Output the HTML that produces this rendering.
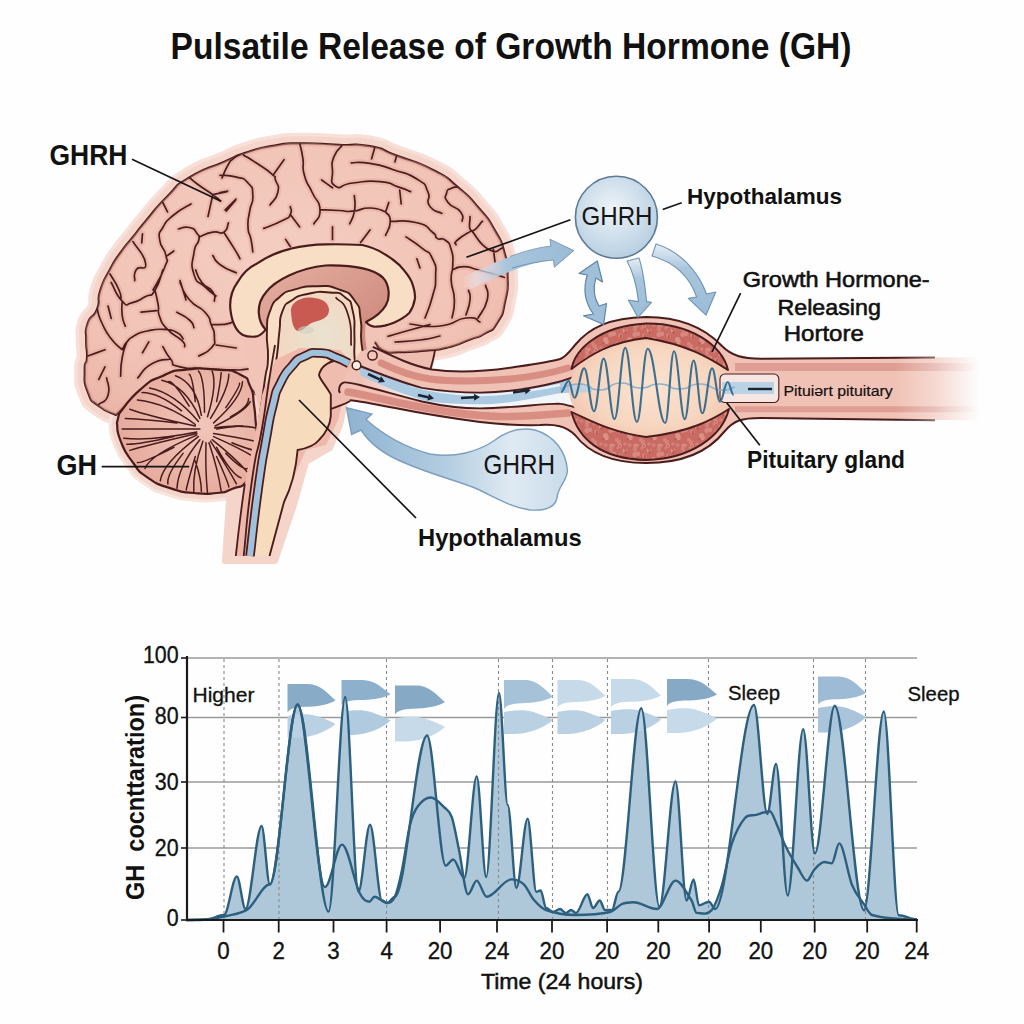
<!DOCTYPE html>
<html><head><meta charset="utf-8"><style>
html,body{margin:0;padding:0;background:#fff;}
svg{display:block;font-family:"Liberation Sans", sans-serif;}
</style></head><body>
<svg width="1024" height="1024" viewBox="0 0 1024 1024">
<rect width="1024" height="1024" fill="#fefefe"/>
<text x="170.5" y="59.3" font-size="36.5" font-weight="bold" fill="#111" textLength="681" lengthAdjust="spacingAndGlyphs">Pulsatile Release of Growth Hormone (GH)</text>
<path d="M116.0,415.0 C110.2,412.0 108.2,413.7 98.8,406.0 C89.3,398.3 92.5,403.9 87.8,391.9 C83.1,379.9 85.0,381.5 84.7,370.0 C84.4,358.5 86.5,367.4 87.0,357.5 C87.5,347.6 86.0,351.8 86.2,340.3 C86.5,328.8 84.1,333.4 87.8,323.0 C91.5,312.6 93.0,319.9 97.2,309.0 C101.4,298.1 96.1,303.3 100.3,290.3 C104.5,277.3 102.8,282.8 109.7,270.0 C116.6,257.2 113.2,263.0 121.0,252.0 C128.8,241.0 124.8,247.2 133.0,237.0 C141.2,226.8 134.1,234.8 145.6,221.2 C157.1,207.7 152.9,210.8 167.5,196.2 C182.1,181.7 170.7,188.9 189.4,177.5 C208.2,166.1 204.2,170.4 223.8,161.9 C243.3,153.4 231.0,157.4 248.0,152.0 C265.0,146.6 257.0,148.5 274.7,145.6 C292.4,142.7 279.6,143.6 301.0,143.3 C322.4,143.0 315.8,143.8 338.8,144.8 C361.8,145.8 350.7,142.7 370.0,146.2 C389.3,149.8 375.8,147.8 396.6,155.6 C417.4,163.4 412.2,159.3 432.5,169.7 C452.8,180.1 441.9,173.9 457.5,186.9 C473.1,199.9 466.9,194.2 479.4,208.8 C491.9,223.3 486.7,216.0 495.0,230.6 C503.3,245.2 500.2,237.4 504.4,252.5 C508.6,267.6 507.2,260.0 507.5,276.0 C507.8,292.0 508.6,285.1 505.3,300.6 C502.0,316.1 504.3,311.6 497.5,322.5 C490.7,333.4 494.4,327.7 485.0,333.4 C475.6,339.1 481.9,335.0 469.4,339.7 C456.9,344.4 462.1,343.9 447.5,347.5 C432.9,351.1 441.8,349.0 425.6,350.6 C409.4,352.2 413.1,352.2 399.0,352.2 C384.9,352.2 393.3,354.2 383.4,350.6 C373.5,347.0 380.5,341.5 369.4,341.3 C358.3,341.1 366.5,343.1 350.0,350.0 C333.5,356.9 340.0,352.0 320.0,362.0 C300.0,372.0 309.3,370.0 290.0,380.0 C270.7,390.0 274.7,388.7 262.0,392.0 C249.3,395.3 260.7,395.0 252.0,390.0 C243.3,385.0 250.0,383.7 236.0,377.0 C222.0,370.3 228.7,372.0 210.0,370.0 C191.3,368.0 200.0,366.0 180.0,371.0 C160.0,376.0 171.3,370.3 150.0,385.0 C128.7,399.7 127.3,405.0 116.0,415.0 Z" fill="#f8e0d9" stroke="#f8e0d9" stroke-width="21" stroke-linejoin="round"/>
<path d="M116.0,415.0 C110.2,412.0 108.2,413.7 98.8,406.0 C89.3,398.3 92.5,403.9 87.8,391.9 C83.1,379.9 85.0,381.5 84.7,370.0 C84.4,358.5 86.5,367.4 87.0,357.5 C87.5,347.6 86.0,351.8 86.2,340.3 C86.5,328.8 84.1,333.4 87.8,323.0 C91.5,312.6 93.0,319.9 97.2,309.0 C101.4,298.1 96.1,303.3 100.3,290.3 C104.5,277.3 102.8,282.8 109.7,270.0 C116.6,257.2 113.2,263.0 121.0,252.0 C128.8,241.0 124.8,247.2 133.0,237.0 C141.2,226.8 134.1,234.8 145.6,221.2 C157.1,207.7 152.9,210.8 167.5,196.2 C182.1,181.7 170.7,188.9 189.4,177.5 C208.2,166.1 204.2,170.4 223.8,161.9 C243.3,153.4 231.0,157.4 248.0,152.0 C265.0,146.6 257.0,148.5 274.7,145.6 C292.4,142.7 279.6,143.6 301.0,143.3 C322.4,143.0 315.8,143.8 338.8,144.8 C361.8,145.8 350.7,142.7 370.0,146.2 C389.3,149.8 375.8,147.8 396.6,155.6 C417.4,163.4 412.2,159.3 432.5,169.7 C452.8,180.1 441.9,173.9 457.5,186.9 C473.1,199.9 466.9,194.2 479.4,208.8 C491.9,223.3 486.7,216.0 495.0,230.6 C503.3,245.2 500.2,237.4 504.4,252.5 C508.6,267.6 507.2,260.0 507.5,276.0 C507.8,292.0 508.6,285.1 505.3,300.6 C502.0,316.1 504.3,311.6 497.5,322.5 C490.7,333.4 494.4,327.7 485.0,333.4 C475.6,339.1 481.9,335.0 469.4,339.7 C456.9,344.4 462.1,343.9 447.5,347.5 C432.9,351.1 441.8,349.0 425.6,350.6 C409.4,352.2 413.1,352.2 399.0,352.2 C384.9,352.2 393.3,354.2 383.4,350.6 C373.5,347.0 380.5,341.5 369.4,341.3 C358.3,341.1 366.5,343.1 350.0,350.0 C333.5,356.9 340.0,352.0 320.0,362.0 C300.0,372.0 309.3,370.0 290.0,380.0 C270.7,390.0 274.7,388.7 262.0,392.0 C249.3,395.3 260.7,395.0 252.0,390.0 C243.3,385.0 250.0,383.7 236.0,377.0 C222.0,370.3 228.7,372.0 210.0,370.0 C191.3,368.0 200.0,366.0 180.0,371.0 C160.0,376.0 171.3,370.3 150.0,385.0 C128.7,399.7 127.3,405.0 116.0,415.0 Z" fill="#f5d4ca" stroke="#f5d4ca" stroke-width="14" stroke-linejoin="round"/>
<path d="M119.1,413.8 C126.2,405.7 125.8,402.1 140.5,389.4 C155.2,376.7 148.1,382.3 163.3,375.7 C178.5,369.1 168.4,371.6 186.2,369.6 C204.0,367.6 198.8,368.1 216.6,369.6 C234.4,371.1 228.3,368.6 239.5,374.2 C250.7,379.8 245.4,376.1 250.2,386.4 C255.0,396.7 252.1,392.1 254.0,405.0 C255.9,417.9 254.5,411.4 256.0,425.0 C257.5,438.6 258.9,433.3 258.5,445.8 C258.1,458.3 258.5,450.8 254.7,462.5 C250.9,474.2 254.7,472.0 247.1,480.8 C239.5,489.6 242.2,484.9 232.0,489.0 C221.8,493.1 229.3,491.7 216.6,493.0 C203.9,494.3 209.0,494.5 193.8,493.0 C178.6,491.5 186.1,493.5 170.9,488.4 C155.7,483.3 160.8,486.4 148.1,477.8 C135.4,469.2 142.0,474.7 132.9,462.5 C123.8,450.3 126.0,454.4 120.7,441.2 C115.4,428.0 118.2,429.1 116.9,423.0 Z" fill="#f8e3dd" stroke="#f8e3dd" stroke-width="17" stroke-linejoin="round"/>
<path d="M119.1,413.8 C126.2,405.7 125.8,402.1 140.5,389.4 C155.2,376.7 148.1,382.3 163.3,375.7 C178.5,369.1 168.4,371.6 186.2,369.6 C204.0,367.6 198.8,368.1 216.6,369.6 C234.4,371.1 228.3,368.6 239.5,374.2 C250.7,379.8 245.4,376.1 250.2,386.4 C255.0,396.7 252.1,392.1 254.0,405.0 C255.9,417.9 254.5,411.4 256.0,425.0 C257.5,438.6 258.9,433.3 258.5,445.8 C258.1,458.3 258.5,450.8 254.7,462.5 C250.9,474.2 254.7,472.0 247.1,480.8 C239.5,489.6 242.2,484.9 232.0,489.0 C221.8,493.1 229.3,491.7 216.6,493.0 C203.9,494.3 209.0,494.5 193.8,493.0 C178.6,491.5 186.1,493.5 170.9,488.4 C155.7,483.3 160.8,486.4 148.1,477.8 C135.4,469.2 142.0,474.7 132.9,462.5 C123.8,450.3 126.0,454.4 120.7,441.2 C115.4,428.0 118.2,429.1 116.9,423.0 Z" fill="#f5d4ca" stroke="#f5d4ca" stroke-width="11" stroke-linejoin="round"/>
<path d="M225,561 L229,500 L240,440 L258,380 L300,350 L345,352 L352,370 L340,425 L330,448 L306,462 L294,505 L275,561 Z" fill="#f5d4ca" stroke="#f5d4ca" stroke-width="6" stroke-linejoin="round"/>
<path d="M338,352 L372,338 L436,346 L432,372 L360,372 L340,370 Z" fill="#efbdb0" stroke="none" stroke-width="0" />
<defs><radialGradient id="gb" cx="0.45" cy="0.4" r="0.7"><stop offset="0" stop-color="#f4cdc1"/><stop offset="0.7" stop-color="#f1c3b6"/><stop offset="1" stop-color="#ebb6a8"/></radialGradient><linearGradient id="gin" x1="0" y1="0" x2="1" y2="1"><stop offset="0" stop-color="#e5b0a2"/><stop offset="1" stop-color="#c98275"/></linearGradient><radialGradient id="gth" cx="0.55" cy="0.55" r="0.6"><stop offset="0" stop-color="#e9e3d0"/><stop offset="1" stop-color="#f3d6c0"/></radialGradient></defs>
<path d="M116.0,415.0 C110.2,412.0 108.2,413.7 98.8,406.0 C89.3,398.3 92.5,403.9 87.8,391.9 C83.1,379.9 85.0,381.5 84.7,370.0 C84.4,358.5 86.5,367.4 87.0,357.5 C87.5,347.6 86.0,351.8 86.2,340.3 C86.5,328.8 84.1,333.4 87.8,323.0 C91.5,312.6 93.0,319.9 97.2,309.0 C101.4,298.1 96.1,303.3 100.3,290.3 C104.5,277.3 102.8,282.8 109.7,270.0 C116.6,257.2 113.2,263.0 121.0,252.0 C128.8,241.0 124.8,247.2 133.0,237.0 C141.2,226.8 134.1,234.8 145.6,221.2 C157.1,207.7 152.9,210.8 167.5,196.2 C182.1,181.7 170.7,188.9 189.4,177.5 C208.2,166.1 204.2,170.4 223.8,161.9 C243.3,153.4 231.0,157.4 248.0,152.0 C265.0,146.6 257.0,148.5 274.7,145.6 C292.4,142.7 279.6,143.6 301.0,143.3 C322.4,143.0 315.8,143.8 338.8,144.8 C361.8,145.8 350.7,142.7 370.0,146.2 C389.3,149.8 375.8,147.8 396.6,155.6 C417.4,163.4 412.2,159.3 432.5,169.7 C452.8,180.1 441.9,173.9 457.5,186.9 C473.1,199.9 466.9,194.2 479.4,208.8 C491.9,223.3 486.7,216.0 495.0,230.6 C503.3,245.2 500.2,237.4 504.4,252.5 C508.6,267.6 507.2,260.0 507.5,276.0 C507.8,292.0 508.6,285.1 505.3,300.6 C502.0,316.1 504.3,311.6 497.5,322.5 C490.7,333.4 494.4,327.7 485.0,333.4 C475.6,339.1 481.9,335.0 469.4,339.7 C456.9,344.4 462.1,343.9 447.5,347.5 C432.9,351.1 441.8,349.0 425.6,350.6 C409.4,352.2 413.1,352.2 399.0,352.2 C384.9,352.2 393.3,354.2 383.4,350.6 C373.5,347.0 380.5,341.5 369.4,341.3 C358.3,341.1 366.5,343.1 350.0,350.0 C333.5,356.9 340.0,352.0 320.0,362.0 C300.0,372.0 309.3,370.0 290.0,380.0 C270.7,390.0 274.7,388.7 262.0,392.0 C249.3,395.3 260.7,395.0 252.0,390.0 C243.3,385.0 250.0,383.7 236.0,377.0 C222.0,370.3 228.7,372.0 210.0,370.0 C191.3,368.0 200.0,366.0 180.0,371.0 C160.0,376.0 171.3,370.3 150.0,385.0 C128.7,399.7 127.3,405.0 116.0,415.0 Z" fill="url(#gb)" stroke="#4a1c1c" stroke-width="2.2" />
<clipPath id="cerclip"><path d="M116.0,415.0 C110.2,412.0 108.2,413.7 98.8,406.0 C89.3,398.3 92.5,403.9 87.8,391.9 C83.1,379.9 85.0,381.5 84.7,370.0 C84.4,358.5 86.5,367.4 87.0,357.5 C87.5,347.6 86.0,351.8 86.2,340.3 C86.5,328.8 84.1,333.4 87.8,323.0 C91.5,312.6 93.0,319.9 97.2,309.0 C101.4,298.1 96.1,303.3 100.3,290.3 C104.5,277.3 102.8,282.8 109.7,270.0 C116.6,257.2 113.2,263.0 121.0,252.0 C128.8,241.0 124.8,247.2 133.0,237.0 C141.2,226.8 134.1,234.8 145.6,221.2 C157.1,207.7 152.9,210.8 167.5,196.2 C182.1,181.7 170.7,188.9 189.4,177.5 C208.2,166.1 204.2,170.4 223.8,161.9 C243.3,153.4 231.0,157.4 248.0,152.0 C265.0,146.6 257.0,148.5 274.7,145.6 C292.4,142.7 279.6,143.6 301.0,143.3 C322.4,143.0 315.8,143.8 338.8,144.8 C361.8,145.8 350.7,142.7 370.0,146.2 C389.3,149.8 375.8,147.8 396.6,155.6 C417.4,163.4 412.2,159.3 432.5,169.7 C452.8,180.1 441.9,173.9 457.5,186.9 C473.1,199.9 466.9,194.2 479.4,208.8 C491.9,223.3 486.7,216.0 495.0,230.6 C503.3,245.2 500.2,237.4 504.4,252.5 C508.6,267.6 507.2,260.0 507.5,276.0 C507.8,292.0 508.6,285.1 505.3,300.6 C502.0,316.1 504.3,311.6 497.5,322.5 C490.7,333.4 494.4,327.7 485.0,333.4 C475.6,339.1 481.9,335.0 469.4,339.7 C456.9,344.4 462.1,343.9 447.5,347.5 C432.9,351.1 441.8,349.0 425.6,350.6 C409.4,352.2 413.1,352.2 399.0,352.2 C384.9,352.2 393.3,354.2 383.4,350.6 C373.5,347.0 380.5,341.5 369.4,341.3 C358.3,341.1 366.5,343.1 350.0,350.0 C333.5,356.9 340.0,352.0 320.0,362.0 C300.0,372.0 309.3,370.0 290.0,380.0 C270.7,390.0 274.7,388.7 262.0,392.0 C249.3,395.3 260.7,395.0 252.0,390.0 C243.3,385.0 250.0,383.7 236.0,377.0 C222.0,370.3 228.7,372.0 210.0,370.0 C191.3,368.0 200.0,366.0 180.0,371.0 C160.0,376.0 171.3,370.3 150.0,385.0 C128.7,399.7 127.3,405.0 116.0,415.0 Z"/></clipPath>
<g clip-path="url(#cerclip)"><path d="M240.0,154.0 C237.7,155.7 237.0,155.3 233.0,159.0 C229.0,162.7 231.7,158.7 228.0,165.0 C224.3,171.3 224.0,173.7 222.0,178.0 M189.4,177.5 C192.6,180.1 191.2,179.6 199.0,185.3 C206.8,191.0 205.6,189.5 212.8,194.7 C220.0,199.9 218.0,198.9 220.6,201.0 M212.8,194.7 C217.5,193.7 222.3,192.6 227.0,191.6 M212.8,194.7 C211.2,202.0 209.6,209.2 208.0,216.5 M236.0,199.0 C232.3,202.7 228.7,206.3 225.0,210.0 M162.8,202.5 C164.4,205.6 165.9,208.8 167.5,211.9 M191.0,204.0 C185.2,207.7 183.1,207.2 173.7,215.0 C164.3,222.8 167.5,219.2 162.8,227.5 C158.1,235.8 158.6,230.6 159.7,240.0 C160.8,249.4 164.4,246.3 166.0,255.6 C167.6,264.9 168.7,256.5 164.4,268.0 C160.1,279.5 156.8,282.7 153.0,290.0 M142.5,233.8 C142.2,236.8 142.0,239.9 141.7,243.0 M133.0,241.6 C137.2,248.9 144.5,254.0 145.6,263.4 C146.7,272.8 139.9,264.0 136.2,269.7 C132.6,275.4 135.2,277.0 134.7,280.6 M178.4,229.0 C182.1,228.5 183.1,225.9 189.4,227.5 C195.7,229.1 194.1,229.6 197.2,233.8 C200.3,237.9 199.8,233.8 198.8,240.0 C197.7,246.2 195.6,241.0 194.0,252.5 C192.4,264.0 190.3,262.9 194.0,274.4 C197.7,285.9 197.7,279.7 205.0,286.9 C212.3,294.1 212.3,293.0 216.0,296.0 M198.8,237.0 C203.4,235.4 204.5,233.8 212.8,232.2 C221.1,230.6 218.6,235.3 223.8,232.2 C228.9,229.1 226.8,225.9 228.4,222.8 M223.8,232.2 C227.4,237.9 229.3,240.6 234.7,249.4 C240.1,258.2 238.2,255.6 240.0,258.8 M212.8,255.6 C215.4,258.7 212.8,259.3 220.6,265.0 C228.4,270.7 231.0,270.2 236.2,272.8 M167.5,255.6 C169.6,254.1 171.7,252.5 173.8,251.0 M180.0,280.6 C182.0,287.1 184.0,293.5 186.0,300.0 M110.0,274.0 C113.0,279.3 115.3,281.3 119.0,290.0 C122.7,298.7 120.3,296.7 121.0,300.0 M243.4,155.0 C247.6,157.6 246.6,156.6 256.0,162.8 C265.4,169.1 265.1,168.0 271.6,173.8 C278.1,179.5 273.4,173.8 275.5,180.0 C277.6,186.2 279.6,184.2 277.8,192.5 C276.0,200.8 272.6,200.8 270.0,205.0 M273.0,175.3 C276.7,170.1 280.3,164.9 284.0,159.7 M220.0,175.3 C225.2,175.8 226.3,174.3 235.6,176.9 C244.9,179.5 242.3,176.8 248.0,183.0 C253.7,189.2 252.2,186.3 252.8,195.6 C253.4,204.9 251.3,200.6 249.7,211.0 C248.1,221.4 247.6,217.4 248.0,226.9 C248.4,236.4 249.4,231.1 251.0,239.4 C252.6,247.7 252.2,247.7 252.8,251.9 M220.0,192.5 C222.6,192.0 225.2,191.5 227.8,191.0 M235.6,200.3 C232.5,204.0 229.4,207.6 226.2,211.2 M299.7,143.3 C300.7,148.2 301.2,147.3 302.8,158.0 C304.4,168.7 301.3,163.8 304.4,175.3 C307.5,186.8 307.0,181.0 312.2,192.5 C317.4,204.0 319.5,199.3 320.0,209.7 C320.5,220.1 315.8,219.1 313.8,223.8 M320.0,209.7 C326.2,210.0 327.8,210.0 338.8,210.5 C349.7,211.0 342.4,212.1 352.8,211.2 C363.2,210.4 359.1,207.8 370.0,208.0 C380.9,208.2 380.4,210.6 385.6,211.9 M354.4,195.6 C354.4,200.8 356.0,201.9 354.4,211.2 C352.8,220.6 351.3,219.6 349.7,223.8 M332.5,226.9 C332.5,231.1 332.5,235.2 332.5,239.4 M290.3,206.6 C290.3,209.2 292.9,209.7 290.3,214.4 C287.7,219.1 291.4,215.9 282.5,220.6 C273.6,225.3 270.0,225.8 263.8,228.4 M290.3,214.4 C293.4,218.6 296.6,222.7 299.7,226.9 M370.0,230.0 C366.9,234.2 363.7,238.3 360.6,242.5 M285.6,239.4 C287.2,241.8 288.7,244.2 290.3,246.6 M341.9,145.6 C339.3,149.3 337.1,148.3 334.0,156.6 C330.9,164.9 332.0,160.7 332.5,170.6 C333.0,180.5 328.8,182.1 335.6,186.2 C342.4,190.4 338.0,184.6 352.8,183.0 C367.6,181.4 364.9,180.3 380.0,181.6 C395.1,182.9 387.8,183.6 398.0,186.9 C408.2,190.2 406.4,190.0 410.6,191.6 M321.6,180.0 C325.2,182.6 328.9,185.2 332.5,187.8 M351.2,162.8 C357.5,163.0 355.9,161.1 370.0,163.4 C384.1,165.7 377.8,164.5 393.4,169.7 C409.0,174.9 405.4,171.7 416.9,179.0 C428.4,186.3 423.6,182.7 427.8,191.6 C432.0,200.5 424.7,198.3 429.4,205.6 C434.1,212.9 437.7,210.8 441.9,213.4 M374.7,147.8 C373.7,151.5 372.6,155.1 371.6,158.8 M396.6,155.6 C396.1,157.7 395.5,159.8 395.0,161.9 M399.7,190.0 C400.2,194.7 400.7,199.3 401.2,204.0 M385.6,211.9 C386.7,208.8 387.7,205.6 388.8,202.5 M385.6,211.9 C387.2,215.0 390.3,213.4 390.3,221.2 C390.3,229.1 387.2,230.6 385.6,235.3 M390.3,221.2 C399.2,221.8 402.8,219.2 416.9,222.8 C431.0,226.5 425.7,227.0 432.5,232.2 C439.3,237.4 433.0,235.8 437.2,238.4 C441.4,241.0 440.3,236.3 445.0,240.0 C449.7,243.7 448.6,241.1 451.2,249.4 C453.9,257.7 452.8,254.6 452.8,265.0 C452.8,275.4 450.7,268.9 451.2,280.6 C451.8,292.3 454.1,287.5 454.4,300.0 C454.6,312.5 452.8,312.0 452.0,318.0 M406.0,236.9 C411.2,240.5 412.8,240.5 421.6,247.8 C430.4,255.1 427.8,248.8 432.5,258.8 C437.2,268.6 435.6,265.0 435.6,277.5 C435.6,290.0 436.0,282.8 432.5,296.2 C429.0,309.8 427.5,310.8 425.0,318.0 M416.9,258.8 C417.9,261.8 419.0,264.9 420.0,268.0 M457.5,186.9 C455.3,187.4 454.6,186.4 451.0,188.4 C447.4,190.4 447.6,188.3 446.6,193.0 C445.6,197.7 443.3,196.2 448.0,202.5 C452.7,208.8 455.9,205.7 460.6,211.9 C465.3,218.2 461.7,218.1 462.2,221.2 M482.5,221.2 C478.9,224.4 475.8,232.2 471.6,230.6 C467.4,229.0 470.5,221.3 470.0,216.6 M471.6,230.6 C466.9,233.7 462.7,235.3 457.5,240.0 C452.3,244.7 456.5,243.1 456.0,244.7 M471.6,230.6 C477.3,236.9 478.4,243.7 488.8,249.4 C499.1,255.1 498.1,248.3 502.8,247.8 M493.4,249.4 C493.9,253.6 494.5,257.7 495.0,261.9 M452.8,269.7 C456.4,268.7 455.4,266.6 463.8,266.6 C472.1,266.6 467.4,267.1 477.8,269.7 C488.2,272.3 486.1,271.8 495.0,274.4 C503.9,277.0 501.3,276.5 504.4,277.5 M468.4,290.0 C468.9,293.3 470.8,291.7 470.0,300.0 C469.2,308.3 467.3,310.0 466.0,315.0 M485.6,285.3 C486.1,290.2 489.7,289.1 487.2,300.0 C484.7,310.9 481.1,312.0 478.0,318.0 M410.0,324.0 C420.0,324.7 421.3,328.0 440.0,326.0 C458.7,324.0 452.7,319.3 466.0,318.0 C479.3,316.7 475.3,320.7 480.0,322.0 M388.0,336.3 C395.3,334.2 396.0,333.9 410.0,330.0 C424.0,326.1 423.3,326.3 430.0,324.5 M395.0,342.0 C403.3,341.3 405.0,342.0 420.0,340.0 C435.0,338.0 433.3,337.3 440.0,336.0 M111.2,282.5 C114.9,288.8 115.4,294.5 122.2,301.2 C129.0,308.0 123.8,304.4 131.6,302.8 C139.4,301.2 137.8,300.8 145.6,296.6 C153.4,292.4 149.3,299.2 155.0,290.3 C160.7,281.4 160.2,276.8 162.8,270.0 M122.2,301.2 C122.2,305.9 121.2,307.0 122.2,315.3 C123.2,323.6 124.3,322.6 125.3,326.2 M108.0,306.0 C109.1,310.1 110.2,314.3 111.2,318.4 M97.2,309.0 C98.8,313.7 97.2,313.1 101.9,323.0 C106.6,332.9 104.5,329.9 111.2,338.8 C118.0,347.6 118.5,346.1 122.2,349.7 M155.0,290.3 C156.0,295.0 156.5,295.5 158.1,304.4 C159.7,313.3 156.6,308.6 159.7,316.9 C162.8,325.2 160.2,321.6 167.5,329.4 C174.8,337.2 175.9,334.6 181.6,340.3 C187.3,346.0 183.7,344.5 184.7,346.6 M141.0,312.2 C146.2,311.7 151.4,311.1 156.6,310.6 M180.0,282.5 C183.1,288.2 181.1,289.8 189.4,299.7 C197.7,309.6 197.7,303.9 205.0,312.2 C212.3,320.5 208.1,316.4 211.2,324.7 C214.4,333.0 214.4,329.4 214.4,337.2 C214.4,345.0 216.5,341.7 211.2,348.0 C206.0,354.3 202.9,353.3 198.8,356.0 M195.6,270.0 C197.7,274.2 196.2,275.2 201.9,282.5 C207.6,289.8 208.6,285.6 212.8,291.9 C217.0,298.1 213.9,298.1 214.4,301.2 M176.9,312.2 C181.1,314.8 183.7,314.8 189.4,320.0 C195.1,325.2 192.5,325.2 194.0,327.8 M211.2,324.7 C217.5,324.2 222.2,325.7 230.0,323.1 C237.8,320.5 233.1,319.0 234.7,316.9 M216.0,345.0 C222.8,346.0 229.5,347.0 236.2,348.0 M87.8,356.0 C93.5,353.9 99.3,351.8 105.0,349.7 M122.2,349.7 C123.8,347.1 122.7,346.6 126.9,341.9 C131.1,337.2 127.9,339.2 134.7,335.6 C141.5,332.0 137.3,333.1 147.2,331.0 C157.1,328.9 154.5,328.9 164.4,329.4 C174.3,329.9 170.7,329.4 176.9,332.5 C183.1,335.6 181.0,336.7 183.1,338.8 M148.8,341.9 C146.7,345.5 144.6,349.2 142.5,352.8 M126.9,341.9 C125.3,347.1 124.3,346.1 122.2,357.5 C120.1,368.9 121.1,370.0 120.6,376.2 M162.8,346.6 C165.4,350.7 164.9,352.2 170.6,359.0 C176.3,365.8 166.9,363.6 180.0,366.9 C193.1,370.2 190.0,368.0 210.0,369.0 C230.0,370.0 230.0,369.7 240.0,370.0 M137.8,377.8 C142.5,373.1 141.0,370.0 151.9,363.8 C162.8,357.5 164.4,360.6 170.6,359.0 M98.8,379.4 C100.8,375.2 102.9,371.1 105.0,366.9 M106.6,377.8 C107.1,383.5 110.7,386.1 108.1,395.0 C105.5,403.9 101.9,401.3 98.8,404.4 M240.0,370.0 C247.3,368.3 252.7,370.0 262.0,365.0 C271.3,360.0 266.7,366.7 268.0,355.0 C269.3,343.3 268.0,341.7 266.0,330.0 C264.0,318.3 263.3,323.3 262.0,320.0 M116.0,415.0 C110.2,412.0 108.2,413.7 98.8,406.0 C89.3,398.3 92.5,403.9 87.8,391.9 C83.1,379.9 85.0,381.5 84.7,370.0 C84.4,358.5 86.5,367.4 87.0,357.5 C87.5,347.6 86.0,351.8 86.2,340.3 C86.5,328.8 84.1,333.4 87.8,323.0 C91.5,312.6 93.0,319.9 97.2,309.0 C101.4,298.1 96.1,303.3 100.3,290.3 C104.5,277.3 102.8,282.8 109.7,270.0 C116.6,257.2 113.2,263.0 121.0,252.0 C128.8,241.0 124.8,247.2 133.0,237.0 C141.2,226.8 134.1,234.8 145.6,221.2 C157.1,207.7 152.9,210.8 167.5,196.2 C182.1,181.7 170.7,188.9 189.4,177.5 C208.2,166.1 204.2,170.4 223.8,161.9 C243.3,153.4 231.0,157.4 248.0,152.0 C265.0,146.6 257.0,148.5 274.7,145.6 C292.4,142.7 279.6,143.6 301.0,143.3 C322.4,143.0 315.8,143.8 338.8,144.8 C361.8,145.8 350.7,142.7 370.0,146.2 C389.3,149.8 375.8,147.8 396.6,155.6 C417.4,163.4 412.2,159.3 432.5,169.7 C452.8,180.1 441.9,173.9 457.5,186.9 C473.1,199.9 466.9,194.2 479.4,208.8 C491.9,223.3 486.7,216.0 495.0,230.6 C503.3,245.2 500.2,237.4 504.4,252.5 C508.6,267.6 507.2,260.0 507.5,276.0 C507.8,292.0 508.6,285.1 505.3,300.6 C502.0,316.1 504.3,311.6 497.5,322.5 C490.7,333.4 494.4,327.7 485.0,333.4 C475.6,339.1 481.9,335.0 469.4,339.7 C456.9,344.4 462.1,343.9 447.5,347.5 C432.9,351.1 441.8,349.0 425.6,350.6 C409.4,352.2 413.1,352.2 399.0,352.2 C384.9,352.2 393.3,354.2 383.4,350.6 C373.5,347.0 380.5,341.5 369.4,341.3 C358.3,341.1 366.5,343.1 350.0,350.0 C333.5,356.9 340.0,352.0 320.0,362.0 C300.0,372.0 309.3,370.0 290.0,380.0 C270.7,390.0 274.7,388.7 262.0,392.0 C249.3,395.3 260.7,395.0 252.0,390.0 C243.3,385.0 250.0,383.7 236.0,377.0 C222.0,370.3 228.7,372.0 210.0,370.0 C191.3,368.0 200.0,366.0 180.0,371.0 C160.0,376.0 171.3,370.3 150.0,385.0 C128.7,399.7 127.3,405.0 116.0,415.0 Z" fill="none" stroke="#e3a596" stroke-opacity="0.45" stroke-width="6" stroke-linecap="round" stroke-linejoin="round"/>
<path d="M240.0,154.0 C237.7,155.7 237.0,155.3 233.0,159.0 C229.0,162.7 231.7,158.7 228.0,165.0 C224.3,171.3 224.0,173.7 222.0,178.0 M189.4,177.5 C192.6,180.1 191.2,179.6 199.0,185.3 C206.8,191.0 205.6,189.5 212.8,194.7 C220.0,199.9 218.0,198.9 220.6,201.0 M212.8,194.7 C217.5,193.7 222.3,192.6 227.0,191.6 M212.8,194.7 C211.2,202.0 209.6,209.2 208.0,216.5 M236.0,199.0 C232.3,202.7 228.7,206.3 225.0,210.0 M162.8,202.5 C164.4,205.6 165.9,208.8 167.5,211.9 M191.0,204.0 C185.2,207.7 183.1,207.2 173.7,215.0 C164.3,222.8 167.5,219.2 162.8,227.5 C158.1,235.8 158.6,230.6 159.7,240.0 C160.8,249.4 164.4,246.3 166.0,255.6 C167.6,264.9 168.7,256.5 164.4,268.0 C160.1,279.5 156.8,282.7 153.0,290.0 M142.5,233.8 C142.2,236.8 142.0,239.9 141.7,243.0 M133.0,241.6 C137.2,248.9 144.5,254.0 145.6,263.4 C146.7,272.8 139.9,264.0 136.2,269.7 C132.6,275.4 135.2,277.0 134.7,280.6 M178.4,229.0 C182.1,228.5 183.1,225.9 189.4,227.5 C195.7,229.1 194.1,229.6 197.2,233.8 C200.3,237.9 199.8,233.8 198.8,240.0 C197.7,246.2 195.6,241.0 194.0,252.5 C192.4,264.0 190.3,262.9 194.0,274.4 C197.7,285.9 197.7,279.7 205.0,286.9 C212.3,294.1 212.3,293.0 216.0,296.0 M198.8,237.0 C203.4,235.4 204.5,233.8 212.8,232.2 C221.1,230.6 218.6,235.3 223.8,232.2 C228.9,229.1 226.8,225.9 228.4,222.8 M223.8,232.2 C227.4,237.9 229.3,240.6 234.7,249.4 C240.1,258.2 238.2,255.6 240.0,258.8 M212.8,255.6 C215.4,258.7 212.8,259.3 220.6,265.0 C228.4,270.7 231.0,270.2 236.2,272.8 M167.5,255.6 C169.6,254.1 171.7,252.5 173.8,251.0 M180.0,280.6 C182.0,287.1 184.0,293.5 186.0,300.0 M110.0,274.0 C113.0,279.3 115.3,281.3 119.0,290.0 C122.7,298.7 120.3,296.7 121.0,300.0 M243.4,155.0 C247.6,157.6 246.6,156.6 256.0,162.8 C265.4,169.1 265.1,168.0 271.6,173.8 C278.1,179.5 273.4,173.8 275.5,180.0 C277.6,186.2 279.6,184.2 277.8,192.5 C276.0,200.8 272.6,200.8 270.0,205.0 M273.0,175.3 C276.7,170.1 280.3,164.9 284.0,159.7 M220.0,175.3 C225.2,175.8 226.3,174.3 235.6,176.9 C244.9,179.5 242.3,176.8 248.0,183.0 C253.7,189.2 252.2,186.3 252.8,195.6 C253.4,204.9 251.3,200.6 249.7,211.0 C248.1,221.4 247.6,217.4 248.0,226.9 C248.4,236.4 249.4,231.1 251.0,239.4 C252.6,247.7 252.2,247.7 252.8,251.9 M220.0,192.5 C222.6,192.0 225.2,191.5 227.8,191.0 M235.6,200.3 C232.5,204.0 229.4,207.6 226.2,211.2 M299.7,143.3 C300.7,148.2 301.2,147.3 302.8,158.0 C304.4,168.7 301.3,163.8 304.4,175.3 C307.5,186.8 307.0,181.0 312.2,192.5 C317.4,204.0 319.5,199.3 320.0,209.7 C320.5,220.1 315.8,219.1 313.8,223.8 M320.0,209.7 C326.2,210.0 327.8,210.0 338.8,210.5 C349.7,211.0 342.4,212.1 352.8,211.2 C363.2,210.4 359.1,207.8 370.0,208.0 C380.9,208.2 380.4,210.6 385.6,211.9 M354.4,195.6 C354.4,200.8 356.0,201.9 354.4,211.2 C352.8,220.6 351.3,219.6 349.7,223.8 M332.5,226.9 C332.5,231.1 332.5,235.2 332.5,239.4 M290.3,206.6 C290.3,209.2 292.9,209.7 290.3,214.4 C287.7,219.1 291.4,215.9 282.5,220.6 C273.6,225.3 270.0,225.8 263.8,228.4 M290.3,214.4 C293.4,218.6 296.6,222.7 299.7,226.9 M370.0,230.0 C366.9,234.2 363.7,238.3 360.6,242.5 M285.6,239.4 C287.2,241.8 288.7,244.2 290.3,246.6 M341.9,145.6 C339.3,149.3 337.1,148.3 334.0,156.6 C330.9,164.9 332.0,160.7 332.5,170.6 C333.0,180.5 328.8,182.1 335.6,186.2 C342.4,190.4 338.0,184.6 352.8,183.0 C367.6,181.4 364.9,180.3 380.0,181.6 C395.1,182.9 387.8,183.6 398.0,186.9 C408.2,190.2 406.4,190.0 410.6,191.6 M321.6,180.0 C325.2,182.6 328.9,185.2 332.5,187.8 M351.2,162.8 C357.5,163.0 355.9,161.1 370.0,163.4 C384.1,165.7 377.8,164.5 393.4,169.7 C409.0,174.9 405.4,171.7 416.9,179.0 C428.4,186.3 423.6,182.7 427.8,191.6 C432.0,200.5 424.7,198.3 429.4,205.6 C434.1,212.9 437.7,210.8 441.9,213.4 M374.7,147.8 C373.7,151.5 372.6,155.1 371.6,158.8 M396.6,155.6 C396.1,157.7 395.5,159.8 395.0,161.9 M399.7,190.0 C400.2,194.7 400.7,199.3 401.2,204.0 M385.6,211.9 C386.7,208.8 387.7,205.6 388.8,202.5 M385.6,211.9 C387.2,215.0 390.3,213.4 390.3,221.2 C390.3,229.1 387.2,230.6 385.6,235.3 M390.3,221.2 C399.2,221.8 402.8,219.2 416.9,222.8 C431.0,226.5 425.7,227.0 432.5,232.2 C439.3,237.4 433.0,235.8 437.2,238.4 C441.4,241.0 440.3,236.3 445.0,240.0 C449.7,243.7 448.6,241.1 451.2,249.4 C453.9,257.7 452.8,254.6 452.8,265.0 C452.8,275.4 450.7,268.9 451.2,280.6 C451.8,292.3 454.1,287.5 454.4,300.0 C454.6,312.5 452.8,312.0 452.0,318.0 M406.0,236.9 C411.2,240.5 412.8,240.5 421.6,247.8 C430.4,255.1 427.8,248.8 432.5,258.8 C437.2,268.6 435.6,265.0 435.6,277.5 C435.6,290.0 436.0,282.8 432.5,296.2 C429.0,309.8 427.5,310.8 425.0,318.0 M416.9,258.8 C417.9,261.8 419.0,264.9 420.0,268.0 M457.5,186.9 C455.3,187.4 454.6,186.4 451.0,188.4 C447.4,190.4 447.6,188.3 446.6,193.0 C445.6,197.7 443.3,196.2 448.0,202.5 C452.7,208.8 455.9,205.7 460.6,211.9 C465.3,218.2 461.7,218.1 462.2,221.2 M482.5,221.2 C478.9,224.4 475.8,232.2 471.6,230.6 C467.4,229.0 470.5,221.3 470.0,216.6 M471.6,230.6 C466.9,233.7 462.7,235.3 457.5,240.0 C452.3,244.7 456.5,243.1 456.0,244.7 M471.6,230.6 C477.3,236.9 478.4,243.7 488.8,249.4 C499.1,255.1 498.1,248.3 502.8,247.8 M493.4,249.4 C493.9,253.6 494.5,257.7 495.0,261.9 M452.8,269.7 C456.4,268.7 455.4,266.6 463.8,266.6 C472.1,266.6 467.4,267.1 477.8,269.7 C488.2,272.3 486.1,271.8 495.0,274.4 C503.9,277.0 501.3,276.5 504.4,277.5 M468.4,290.0 C468.9,293.3 470.8,291.7 470.0,300.0 C469.2,308.3 467.3,310.0 466.0,315.0 M485.6,285.3 C486.1,290.2 489.7,289.1 487.2,300.0 C484.7,310.9 481.1,312.0 478.0,318.0 M410.0,324.0 C420.0,324.7 421.3,328.0 440.0,326.0 C458.7,324.0 452.7,319.3 466.0,318.0 C479.3,316.7 475.3,320.7 480.0,322.0 M388.0,336.3 C395.3,334.2 396.0,333.9 410.0,330.0 C424.0,326.1 423.3,326.3 430.0,324.5 M395.0,342.0 C403.3,341.3 405.0,342.0 420.0,340.0 C435.0,338.0 433.3,337.3 440.0,336.0 M111.2,282.5 C114.9,288.8 115.4,294.5 122.2,301.2 C129.0,308.0 123.8,304.4 131.6,302.8 C139.4,301.2 137.8,300.8 145.6,296.6 C153.4,292.4 149.3,299.2 155.0,290.3 C160.7,281.4 160.2,276.8 162.8,270.0 M122.2,301.2 C122.2,305.9 121.2,307.0 122.2,315.3 C123.2,323.6 124.3,322.6 125.3,326.2 M108.0,306.0 C109.1,310.1 110.2,314.3 111.2,318.4 M97.2,309.0 C98.8,313.7 97.2,313.1 101.9,323.0 C106.6,332.9 104.5,329.9 111.2,338.8 C118.0,347.6 118.5,346.1 122.2,349.7 M155.0,290.3 C156.0,295.0 156.5,295.5 158.1,304.4 C159.7,313.3 156.6,308.6 159.7,316.9 C162.8,325.2 160.2,321.6 167.5,329.4 C174.8,337.2 175.9,334.6 181.6,340.3 C187.3,346.0 183.7,344.5 184.7,346.6 M141.0,312.2 C146.2,311.7 151.4,311.1 156.6,310.6 M180.0,282.5 C183.1,288.2 181.1,289.8 189.4,299.7 C197.7,309.6 197.7,303.9 205.0,312.2 C212.3,320.5 208.1,316.4 211.2,324.7 C214.4,333.0 214.4,329.4 214.4,337.2 C214.4,345.0 216.5,341.7 211.2,348.0 C206.0,354.3 202.9,353.3 198.8,356.0 M195.6,270.0 C197.7,274.2 196.2,275.2 201.9,282.5 C207.6,289.8 208.6,285.6 212.8,291.9 C217.0,298.1 213.9,298.1 214.4,301.2 M176.9,312.2 C181.1,314.8 183.7,314.8 189.4,320.0 C195.1,325.2 192.5,325.2 194.0,327.8 M211.2,324.7 C217.5,324.2 222.2,325.7 230.0,323.1 C237.8,320.5 233.1,319.0 234.7,316.9 M216.0,345.0 C222.8,346.0 229.5,347.0 236.2,348.0 M87.8,356.0 C93.5,353.9 99.3,351.8 105.0,349.7 M122.2,349.7 C123.8,347.1 122.7,346.6 126.9,341.9 C131.1,337.2 127.9,339.2 134.7,335.6 C141.5,332.0 137.3,333.1 147.2,331.0 C157.1,328.9 154.5,328.9 164.4,329.4 C174.3,329.9 170.7,329.4 176.9,332.5 C183.1,335.6 181.0,336.7 183.1,338.8 M148.8,341.9 C146.7,345.5 144.6,349.2 142.5,352.8 M126.9,341.9 C125.3,347.1 124.3,346.1 122.2,357.5 C120.1,368.9 121.1,370.0 120.6,376.2 M162.8,346.6 C165.4,350.7 164.9,352.2 170.6,359.0 C176.3,365.8 166.9,363.6 180.0,366.9 C193.1,370.2 190.0,368.0 210.0,369.0 C230.0,370.0 230.0,369.7 240.0,370.0 M137.8,377.8 C142.5,373.1 141.0,370.0 151.9,363.8 C162.8,357.5 164.4,360.6 170.6,359.0 M98.8,379.4 C100.8,375.2 102.9,371.1 105.0,366.9 M106.6,377.8 C107.1,383.5 110.7,386.1 108.1,395.0 C105.5,403.9 101.9,401.3 98.8,404.4 M240.0,370.0 C247.3,368.3 252.7,370.0 262.0,365.0 C271.3,360.0 266.7,366.7 268.0,355.0 C269.3,343.3 268.0,341.7 266.0,330.0 C264.0,318.3 263.3,323.3 262.0,320.0" fill="none" stroke="#4a1c1c" stroke-width="1.7" stroke-linecap="round" stroke-linejoin="round"/></g>
<path d="M435,350 C434,357 432,364 430.3,369.4" fill="none" stroke="#4a1c1c" stroke-width="1.8" />
<path d="M240,336 L262,420 L300,420 L369,360 L388,300 L330,262 L265,292 Z" fill="#f1c4b7" stroke="none" stroke-width="0" />
<path d="M265.7,329.6 C258,322 255,305 265.7,292.7 C275,280 300,268 325.5,265.5 C350,265 372,268 382.6,277.3 C390,285 390,298 386,305 C381,314 372,319 366,322 C365,330 364,340 369,359 L357,354 L272,330 Z" fill="url(#gin)" stroke="none" stroke-width="0" />
<path d="M259.0,420.0 C260.0,413.3 259.9,414.4 262.0,400.0 C264.1,385.6 263.3,390.9 265.3,376.9 C267.3,362.9 267.5,373.1 268.0,358.0 C268.5,342.9 266.2,347.2 266.9,331.6 C267.6,316.0 265.8,322.7 270.0,311.2 C274.2,299.8 271.1,304.5 279.4,297.2 C287.7,289.9 282.5,293.0 295.0,289.4 C307.5,285.8 302.3,286.2 316.9,286.2 C331.5,286.2 326.2,284.7 338.8,289.4 C351.2,294.1 347.1,290.4 354.4,300.3 C361.7,310.2 358.3,304.9 360.6,319.0 C362.9,333.1 359.8,328.4 361.4,342.5 C363.0,356.6 364.0,355.0 365.3,361.2 L356.0,364.4 C355.5,361.3 354.9,364.9 354.4,355.0 C353.9,345.1 354.9,349.3 354.4,334.7 C353.9,320.1 355.9,323.8 352.8,311.2 C349.7,298.8 352.8,303.4 345.0,297.2 C337.2,290.9 341.9,293.6 329.4,292.5 C316.9,291.4 320.0,291.4 307.5,294.0 C295.0,296.6 300.2,294.6 291.9,300.3 C283.6,306.1 286.7,300.8 282.5,311.2 C278.3,321.7 281.2,317.0 279.4,331.6 C277.6,346.2 279.1,338.9 277.0,355.0 C274.9,371.1 275.7,358.3 273.0,380.0 C270.3,401.7 270.3,406.7 269.0,420.0 Z" fill="#f7dec5" stroke="none" stroke-width="0" />
<path d="M279.4,331.6 C280.4,324.8 278.3,321.7 282.5,311.2 C286.7,300.8 283.6,306.1 291.9,300.3 C300.2,294.6 295.0,296.6 307.5,294.0 C320.0,291.4 316.9,291.4 329.4,292.5 C341.9,293.6 337.2,290.9 345.0,297.2 C352.8,303.4 349.7,298.8 352.8,311.2 C355.9,323.8 353.9,320.1 354.4,334.7 C354.9,349.3 353.9,345.1 354.4,355.0 C354.9,364.9 367.5,365.4 356.0,364.4 C344.5,363.4 342.0,352.8 320.0,352.0 C298.0,351.2 304.3,355.3 290.0,362.0 C275.7,368.7 281.3,368.7 277.0,372.0 Z" fill="url(#gth)" stroke="none" stroke-width="0" />
<path d="M259.0,420.0 C260.0,413.3 259.9,414.4 262.0,400.0 C264.1,385.6 263.3,390.9 265.3,376.9 C267.3,362.9 267.5,373.1 268.0,358.0 C268.5,342.9 266.2,347.2 266.9,331.6 C267.6,316.0 265.8,322.7 270.0,311.2 C274.2,299.8 271.1,304.5 279.4,297.2 C287.7,289.9 282.5,293.0 295.0,289.4 C307.5,285.8 302.3,286.2 316.9,286.2 C331.5,286.2 326.2,284.7 338.8,289.4 C351.2,294.1 347.1,290.4 354.4,300.3 C361.7,310.2 358.3,304.9 360.6,319.0 C362.9,333.1 359.8,328.4 361.4,342.5 C363.0,356.6 364.0,355.0 365.3,361.2" fill="none" stroke="#4a1c1c" stroke-width="1.9" />
<path d="M356.0,364.4 C355.5,361.3 354.9,364.9 354.4,355.0 C353.9,345.1 354.9,349.3 354.4,334.7 C353.9,320.1 355.9,323.8 352.8,311.2 C349.7,298.8 352.8,303.4 345.0,297.2 C337.2,290.9 341.9,293.6 329.4,292.5 C316.9,291.4 320.0,291.4 307.5,294.0 C295.0,296.6 300.2,294.6 291.9,300.3 C283.6,306.1 286.7,300.8 282.5,311.2 C278.3,321.7 281.2,317.0 279.4,331.6 C277.6,346.2 279.1,338.9 277.0,355.0 C274.9,371.1 275.7,358.3 273.0,380.0 C270.3,401.7 270.3,406.7 269.0,420.0" fill="none" stroke="#4a1c1c" stroke-width="1.9" />
<path d="M335.6,297.2 C339.7,302.9 342.8,298.3 348.0,314.4 C353.2,330.5 350.2,335.2 351.2,345.6" fill="none" stroke="#4a1c1c" stroke-width="1.7" />
<path d="M265.7,329.6 C262,334 258,336.7 255,336.7 C249,337 245,336 242.9,335 C236,331 232,322 230.5,310.3 C229,298 232,290 237.6,282.2 C243,273 248,268 255.2,264.6 C268,256 280,251 290.3,248.8 C302,246 315,244.5 325.5,244.4 C340,244 352,244.5 362.2,245 C372,247 378,250 383.7,253.6 C390,257 395,261 399.8,265.4 C405,271 409,276 411.6,281.6 C414,288 415.5,293 414.9,298.7 C414,305 412,309 409.5,312.7 C405,317 400,320 394.4,322.4 C388,325 382,326.5 376.2,326.7 C372,327 369,325.5 366,322 C372,319 381,314 386,305 C390,298 390,285 382.6,277.3 C372,268 350,265 325.5,265.5 C300,268 275,280 265.7,292.7 C255,305 258,322 265.7,329.6 Z" fill="#f7dec5" stroke="#4a1c1c" stroke-width="2.2" stroke-linejoin="round"/>
<path d="M291,312 C290,303 300,297 311,297.5 C322,298 329,303 329,310 C329,318 321,320 314,322 C307,324 304,331 298,331 C293,330 291.5,320 291,312 Z" fill="#c85a52" stroke="none" stroke-width="0" />
<ellipse cx="306" cy="330" rx="8" ry="4" fill="#c9d3c4" opacity="0.6"/>
<defs><radialGradient id="gcb" cx="0.6" cy="0.45" r="0.6"><stop offset="0" stop-color="#f1c6ba"/><stop offset="1" stop-color="#e6aa9c"/></radialGradient></defs>
<path d="M119.1,413.8 C126.2,405.7 125.8,402.1 140.5,389.4 C155.2,376.7 148.1,382.3 163.3,375.7 C178.5,369.1 168.4,371.6 186.2,369.6 C204.0,367.6 198.8,368.1 216.6,369.6 C234.4,371.1 228.3,368.6 239.5,374.2 C250.7,379.8 245.4,376.1 250.2,386.4 C255.0,396.7 252.1,392.1 254.0,405.0 C255.9,417.9 254.5,411.4 256.0,425.0 C257.5,438.6 258.9,433.3 258.5,445.8 C258.1,458.3 258.5,450.8 254.7,462.5 C250.9,474.2 254.7,472.0 247.1,480.8 C239.5,489.6 242.2,484.9 232.0,489.0 C221.8,493.1 229.3,491.7 216.6,493.0 C203.9,494.3 209.0,494.5 193.8,493.0 C178.6,491.5 186.1,493.5 170.9,488.4 C155.7,483.3 160.8,486.4 148.1,477.8 C135.4,469.2 142.0,474.7 132.9,462.5 C123.8,450.3 126.0,454.4 120.7,441.2 C115.4,428.0 118.2,429.1 116.9,423.0 Z" fill="url(#gcb)" stroke="#4a1c1c" stroke-width="2.2" />
<clipPath id="cbclip"><path d="M119.1,413.8 C126.2,405.7 125.8,402.1 140.5,389.4 C155.2,376.7 148.1,382.3 163.3,375.7 C178.5,369.1 168.4,371.6 186.2,369.6 C204.0,367.6 198.8,368.1 216.6,369.6 C234.4,371.1 228.3,368.6 239.5,374.2 C250.7,379.8 245.4,376.1 250.2,386.4 C255.0,396.7 252.1,392.1 254.0,405.0 C255.9,417.9 254.5,411.4 256.0,425.0 C257.5,438.6 258.9,433.3 258.5,445.8 C258.1,458.3 258.5,450.8 254.7,462.5 C250.9,474.2 254.7,472.0 247.1,480.8 C239.5,489.6 242.2,484.9 232.0,489.0 C221.8,493.1 229.3,491.7 216.6,493.0 C203.9,494.3 209.0,494.5 193.8,493.0 C178.6,491.5 186.1,493.5 170.9,488.4 C155.7,483.3 160.8,486.4 148.1,477.8 C135.4,469.2 142.0,474.7 132.9,462.5 C123.8,450.3 126.0,454.4 120.7,441.2 C115.4,428.0 118.2,429.1 116.9,423.0 Z"/></clipPath>
<g clip-path="url(#cbclip)"><path d="M199.9,429.0 Q159.5,429.0 122.2,429.0 M195.3,426.0 Q148.8,416.1 129.8,409.2 M195.3,424.5 Q166.4,403.1 137.4,400.1 M198.4,421.4 Q174.0,392.5 149.6,387.9 M199.9,418.4 Q185.4,385.6 161.8,380.3 M201.4,415.3 Q196.1,383.3 175.5,375.7 M204.5,412.3 Q204.5,378.0 198.4,371.1 M207.5,416.8 Q217.4,384.9 212.1,371.1 M210.5,418.4 Q228.8,388.7 228.8,374.2 M213.6,422.9 Q241.8,397.8 242.5,381.8 M215.1,426.0 Q246.3,410.8 250.2,401.6 M216.6,429.0 Q234.2,426.0 242.5,426.0 M213.6,433.6 Q244.8,438.9 254.7,441.2 M213.6,436.6 Q239.5,448.1 253.2,456.5 M212.1,439.7 Q234.2,457.2 247.1,471.7 M210.5,441.2 Q228.1,468.6 236.4,483.9 M209.0,442.7 Q218.2,470.2 221.2,491.5 M206.0,442.7 Q205.2,469.4 207.5,493.0 M202.9,441.2 Q192.3,470.2 193.8,493.0 M199.9,439.7 Q177.8,467.1 177.0,488.4 M198.4,436.6 Q162.6,463.3 160.3,480.8 M196.8,435.1 Q149.6,454.9 145.0,468.6 M196.8,433.6 Q142.0,446.6 129.8,450.4 M196.8,432.1 Q151.1,441.2 123.7,438.2 M181.6,410.8 Q158.8,392.5 142.0,392.5 M189.2,406.2 Q172.5,378.8 167.9,381.8 M195.3,401.6 Q192.3,375.7 189.2,374.2 M216.6,401.6 Q220.5,382.6 221.2,372.7 M225.8,407.7 Q240.3,386.4 239.5,383.3 M230.4,416.8 Q248.6,407.7 248.6,398.6 M231.9,442.7 Q244.8,448.1 254.7,450.4 M225.8,453.4 Q242.5,470.2 247.1,468.6 M216.6,456.5 Q228.8,483.9 228.8,486.9 M195.3,456.5 Q187.7,482.4 186.2,490.0 M183.1,453.4 Q166.4,474.7 167.9,483.9 M174.0,447.3 Q140.5,464.1 137.4,462.5 M174.0,436.6 Q136.7,445.0 126.8,444.3 M177.0,422.9 Q145.0,419.1 125.2,418.4 M195.3,461.0 Q201.4,479.3 201.4,491.5 M216.6,447.3 Q231.9,474.7 241.0,477.8" fill="none" stroke="#4a1c1c" stroke-width="1.5" stroke-linecap="round"/></g>
<path d="M214,428 C228,426 244,425 256,428" fill="none" stroke="#4a1c1c" stroke-width="1.7" />
<path d="M236,556 L244.8,483.8 L256,430 L262,395 L275,360 L300,348 L340,350 L352,362 L338,420 L326,445 L306,450 L297,470 L284,502 L270,556 Z" fill="#eeb8aa" stroke="none" stroke-width="0" />
<path d="M249,556 L262,470 L275,407 C278,385 285,368 300,358 C315,350 330,354 335,361 C328,362 321,366 319,375 C320,380 325,384 330.8,394.4 L330.8,416 C330,426 325,434 319,440 C315,445 309,448 297.6,450 C296,470 290,490 284,502 L269.5,556 Z" fill="#f6dbbc" stroke="none" stroke-width="0" />
<path d="M335,361 C328,362 321,366 319,375 C320,380 325,384 330.8,394.4 L330.8,410 C338,406 345.9,404 350,401 L362,370 L350,360 Z" fill="#efbdb0" stroke="none" stroke-width="0" />
<path d="M235.8,556.0 C237.2,544.0 237.0,544.1 240.0,520.0 C243.0,495.9 243.2,495.9 244.8,483.8" fill="none" stroke="#4a1c1c" stroke-width="1.8" />
<path d="M243.7,556.0 C246.5,530.7 246.0,522.0 252.0,480.0 C258.0,438.0 256.2,461.7 261.7,430.0 C267.2,398.3 264.0,413.3 268.4,385.0 C272.8,356.7 272.8,358.3 275.0,345.0" fill="none" stroke="#4a1c1c" stroke-width="1.8" />
<path d="M269.5,556 L284,502 C290,490 296,470 297.6,450 C309,448 315,445 319,440 C325,434 330,426 330.8,416 L330.8,394.4 C325,384 320,380 319,375 C321,366 328,362 337,360" fill="none" stroke="#4a1c1c" stroke-width="1.9" />
<path d="M330.8,409 C336,407 345.9,404 350,401" fill="none" stroke="#4a1c1c" stroke-width="1.8" />
<path d="M250.0,556.0 C252.7,534.0 252.7,528.7 258.0,490.0 C263.3,451.3 261.0,468.3 266.0,440.0 C271.0,411.7 268.3,423.7 273.0,405.0 C277.7,386.3 273.7,397.0 280.0,384.0 C286.3,371.0 284.0,375.2 292.0,366.0 C300.0,356.8 294.7,360.8 304.0,356.5 C313.3,352.2 309.3,352.7 320.0,353.0 C330.7,353.3 326.3,354.0 336.0,357.5 C345.7,361.0 344.7,361.5 349.0,363.5" fill="none" stroke="#4a1c1c" stroke-width="9.5" stroke-linecap="butt"/>
<path d="M250.0,556.0 C252.7,534.0 252.7,528.7 258.0,490.0 C263.3,451.3 261.0,468.3 266.0,440.0 C271.0,411.7 268.3,423.7 273.0,405.0 C277.7,386.3 273.7,397.0 280.0,384.0 C286.3,371.0 284.0,375.2 292.0,366.0 C300.0,356.8 294.7,360.8 304.0,356.5 C313.3,352.2 309.3,352.7 320.0,353.0 C330.7,353.3 326.3,354.0 336.0,357.5 C345.7,361.0 344.7,361.5 349.0,363.5" fill="none" stroke="#9fc1dc" stroke-width="6" stroke-linecap="butt"/>
<defs><linearGradient id="fadeR" x1="0" y1="0" x2="1" y2="0"><stop offset="0" stop-color="#fefefe" stop-opacity="0"/><stop offset="0.45" stop-color="#fefefe" stop-opacity="0.35"/><stop offset="1" stop-color="#fefefe" stop-opacity="1"/></linearGradient><radialGradient id="pcream" cx="0.5" cy="0.5" r="0.55"><stop offset="0" stop-color="#fae3d0"/><stop offset="0.7" stop-color="#f7d6c0"/><stop offset="1" stop-color="#f1c3ad"/></radialGradient><pattern id="redtex" width="24" height="24" patternUnits="userSpaceOnUse"><rect width="24" height="24" fill="#c96b62"/><circle cx="-18.3" cy="-10.9" r="1.8" fill="#d4827a"/><circle cx="-18.3" cy="13.1" r="1.8" fill="#d4827a"/><circle cx="-18.3" cy="37.1" r="1.8" fill="#d4827a"/><circle cx="5.7" cy="-10.9" r="1.8" fill="#d4827a"/><circle cx="5.7" cy="13.1" r="1.8" fill="#d4827a"/><circle cx="5.7" cy="37.1" r="1.8" fill="#d4827a"/><circle cx="29.7" cy="-10.9" r="1.8" fill="#d4827a"/><circle cx="29.7" cy="13.1" r="1.8" fill="#d4827a"/><circle cx="29.7" cy="37.1" r="1.8" fill="#d4827a"/><circle cx="-12.6" cy="-10.1" r="2.1" fill="#dc9186"/><circle cx="-12.6" cy="13.9" r="2.1" fill="#dc9186"/><circle cx="-12.6" cy="37.9" r="2.1" fill="#dc9186"/><circle cx="11.4" cy="-10.1" r="2.1" fill="#dc9186"/><circle cx="11.4" cy="13.9" r="2.1" fill="#dc9186"/><circle cx="11.4" cy="37.9" r="2.1" fill="#dc9186"/><circle cx="35.4" cy="-10.1" r="2.1" fill="#dc9186"/><circle cx="35.4" cy="13.9" r="2.1" fill="#dc9186"/><circle cx="35.4" cy="37.9" r="2.1" fill="#dc9186"/><circle cx="-17.8" cy="-18.4" r="2.6" fill="#dc9186"/><circle cx="-17.8" cy="5.6" r="2.6" fill="#dc9186"/><circle cx="-17.8" cy="29.6" r="2.6" fill="#dc9186"/><circle cx="6.2" cy="-18.4" r="2.6" fill="#dc9186"/><circle cx="6.2" cy="5.6" r="2.6" fill="#dc9186"/><circle cx="6.2" cy="29.6" r="2.6" fill="#dc9186"/><circle cx="30.2" cy="-18.4" r="2.6" fill="#dc9186"/><circle cx="30.2" cy="5.6" r="2.6" fill="#dc9186"/><circle cx="30.2" cy="29.6" r="2.6" fill="#dc9186"/><circle cx="-11.0" cy="-10.8" r="1.8" fill="#d98a80"/><circle cx="-11.0" cy="13.2" r="1.8" fill="#d98a80"/><circle cx="-11.0" cy="37.2" r="1.8" fill="#d98a80"/><circle cx="13.0" cy="-10.8" r="1.8" fill="#d98a80"/><circle cx="13.0" cy="13.2" r="1.8" fill="#d98a80"/><circle cx="13.0" cy="37.2" r="1.8" fill="#d98a80"/><circle cx="37.0" cy="-10.8" r="1.8" fill="#d98a80"/><circle cx="37.0" cy="13.2" r="1.8" fill="#d98a80"/><circle cx="37.0" cy="37.2" r="1.8" fill="#d98a80"/><circle cx="-18.4" cy="-20.4" r="2.5" fill="#dc9186"/><circle cx="-18.4" cy="3.6" r="2.5" fill="#dc9186"/><circle cx="-18.4" cy="27.6" r="2.5" fill="#dc9186"/><circle cx="5.6" cy="-20.4" r="2.5" fill="#dc9186"/><circle cx="5.6" cy="3.6" r="2.5" fill="#dc9186"/><circle cx="5.6" cy="27.6" r="2.5" fill="#dc9186"/><circle cx="29.6" cy="-20.4" r="2.5" fill="#dc9186"/><circle cx="29.6" cy="3.6" r="2.5" fill="#dc9186"/><circle cx="29.6" cy="27.6" r="2.5" fill="#dc9186"/><circle cx="-6.2" cy="-7.9" r="1.4" fill="#d4827a"/><circle cx="-6.2" cy="16.1" r="1.4" fill="#d4827a"/><circle cx="-6.2" cy="40.1" r="1.4" fill="#d4827a"/><circle cx="17.8" cy="-7.9" r="1.4" fill="#d4827a"/><circle cx="17.8" cy="16.1" r="1.4" fill="#d4827a"/><circle cx="17.8" cy="40.1" r="1.4" fill="#d4827a"/><circle cx="41.8" cy="-7.9" r="1.4" fill="#d4827a"/><circle cx="41.8" cy="16.1" r="1.4" fill="#d4827a"/><circle cx="41.8" cy="40.1" r="1.4" fill="#d4827a"/><circle cx="-23.0" cy="-5.3" r="2.4" fill="#dc9186"/><circle cx="-23.0" cy="18.7" r="2.4" fill="#dc9186"/><circle cx="-23.0" cy="42.7" r="2.4" fill="#dc9186"/><circle cx="1.0" cy="-5.3" r="2.4" fill="#dc9186"/><circle cx="1.0" cy="18.7" r="2.4" fill="#dc9186"/><circle cx="1.0" cy="42.7" r="2.4" fill="#dc9186"/><circle cx="25.0" cy="-5.3" r="2.4" fill="#dc9186"/><circle cx="25.0" cy="18.7" r="2.4" fill="#dc9186"/><circle cx="25.0" cy="42.7" r="2.4" fill="#dc9186"/><circle cx="-12.7" cy="-6.7" r="2.4" fill="#d4827a"/><circle cx="-12.7" cy="17.3" r="2.4" fill="#d4827a"/><circle cx="-12.7" cy="41.3" r="2.4" fill="#d4827a"/><circle cx="11.3" cy="-6.7" r="2.4" fill="#d4827a"/><circle cx="11.3" cy="17.3" r="2.4" fill="#d4827a"/><circle cx="11.3" cy="41.3" r="2.4" fill="#d4827a"/><circle cx="35.3" cy="-6.7" r="2.4" fill="#d4827a"/><circle cx="35.3" cy="17.3" r="2.4" fill="#d4827a"/><circle cx="35.3" cy="41.3" r="2.4" fill="#d4827a"/><circle cx="-5.1" cy="-13.8" r="2.2" fill="#d4827a"/><circle cx="-5.1" cy="10.2" r="2.2" fill="#d4827a"/><circle cx="-5.1" cy="34.2" r="2.2" fill="#d4827a"/><circle cx="18.9" cy="-13.8" r="2.2" fill="#d4827a"/><circle cx="18.9" cy="10.2" r="2.2" fill="#d4827a"/><circle cx="18.9" cy="34.2" r="2.2" fill="#d4827a"/><circle cx="42.9" cy="-13.8" r="2.2" fill="#d4827a"/><circle cx="42.9" cy="10.2" r="2.2" fill="#d4827a"/><circle cx="42.9" cy="34.2" r="2.2" fill="#d4827a"/><circle cx="-13.3" cy="-1.5" r="2.4" fill="#d98a80"/><circle cx="-13.3" cy="22.5" r="2.4" fill="#d98a80"/><circle cx="-13.3" cy="46.5" r="2.4" fill="#d98a80"/><circle cx="10.7" cy="-1.5" r="2.4" fill="#d98a80"/><circle cx="10.7" cy="22.5" r="2.4" fill="#d98a80"/><circle cx="10.7" cy="46.5" r="2.4" fill="#d98a80"/><circle cx="34.7" cy="-1.5" r="2.4" fill="#d98a80"/><circle cx="34.7" cy="22.5" r="2.4" fill="#d98a80"/><circle cx="34.7" cy="46.5" r="2.4" fill="#d98a80"/><circle cx="-23.1" cy="-12.1" r="1.6" fill="#d4827a"/><circle cx="-23.1" cy="11.9" r="1.6" fill="#d4827a"/><circle cx="-23.1" cy="35.9" r="1.6" fill="#d4827a"/><circle cx="0.9" cy="-12.1" r="1.6" fill="#d4827a"/><circle cx="0.9" cy="11.9" r="1.6" fill="#d4827a"/><circle cx="0.9" cy="35.9" r="1.6" fill="#d4827a"/><circle cx="24.9" cy="-12.1" r="1.6" fill="#d4827a"/><circle cx="24.9" cy="11.9" r="1.6" fill="#d4827a"/><circle cx="24.9" cy="35.9" r="1.6" fill="#d4827a"/><circle cx="-13.5" cy="-9.0" r="1.7" fill="#d4827a"/><circle cx="-13.5" cy="15.0" r="1.7" fill="#d4827a"/><circle cx="-13.5" cy="39.0" r="1.7" fill="#d4827a"/><circle cx="10.5" cy="-9.0" r="1.7" fill="#d4827a"/><circle cx="10.5" cy="15.0" r="1.7" fill="#d4827a"/><circle cx="10.5" cy="39.0" r="1.7" fill="#d4827a"/><circle cx="34.5" cy="-9.0" r="1.7" fill="#d4827a"/><circle cx="34.5" cy="15.0" r="1.7" fill="#d4827a"/><circle cx="34.5" cy="39.0" r="1.7" fill="#d4827a"/><circle cx="-4.0" cy="-10.2" r="2.0" fill="#dc9186"/><circle cx="-4.0" cy="13.8" r="2.0" fill="#dc9186"/><circle cx="-4.0" cy="37.8" r="2.0" fill="#dc9186"/><circle cx="20.0" cy="-10.2" r="2.0" fill="#dc9186"/><circle cx="20.0" cy="13.8" r="2.0" fill="#dc9186"/><circle cx="20.0" cy="37.8" r="2.0" fill="#dc9186"/><circle cx="44.0" cy="-10.2" r="2.0" fill="#dc9186"/><circle cx="44.0" cy="13.8" r="2.0" fill="#dc9186"/><circle cx="44.0" cy="37.8" r="2.0" fill="#dc9186"/><circle cx="-10.0" cy="-2.3" r="2.2" fill="#d98a80"/><circle cx="-10.0" cy="21.7" r="2.2" fill="#d98a80"/><circle cx="-10.0" cy="45.7" r="2.2" fill="#d98a80"/><circle cx="14.0" cy="-2.3" r="2.2" fill="#d98a80"/><circle cx="14.0" cy="21.7" r="2.2" fill="#d98a80"/><circle cx="14.0" cy="45.7" r="2.2" fill="#d98a80"/><circle cx="38.0" cy="-2.3" r="2.2" fill="#d98a80"/><circle cx="38.0" cy="21.7" r="2.2" fill="#d98a80"/><circle cx="38.0" cy="45.7" r="2.2" fill="#d98a80"/><circle cx="-3.4" cy="-0.2" r="2.2" fill="#d98a80"/><circle cx="-3.4" cy="23.8" r="2.2" fill="#d98a80"/><circle cx="-3.4" cy="47.8" r="2.2" fill="#d98a80"/><circle cx="20.6" cy="-0.2" r="2.2" fill="#d98a80"/><circle cx="20.6" cy="23.8" r="2.2" fill="#d98a80"/><circle cx="20.6" cy="47.8" r="2.2" fill="#d98a80"/><circle cx="44.6" cy="-0.2" r="2.2" fill="#d98a80"/><circle cx="44.6" cy="23.8" r="2.2" fill="#d98a80"/><circle cx="44.6" cy="47.8" r="2.2" fill="#d98a80"/><circle cx="-7.2" cy="-16.2" r="2.0" fill="#d4827a"/><circle cx="-7.2" cy="7.8" r="2.0" fill="#d4827a"/><circle cx="-7.2" cy="31.8" r="2.0" fill="#d4827a"/><circle cx="16.8" cy="-16.2" r="2.0" fill="#d4827a"/><circle cx="16.8" cy="7.8" r="2.0" fill="#d4827a"/><circle cx="16.8" cy="31.8" r="2.0" fill="#d4827a"/><circle cx="40.8" cy="-16.2" r="2.0" fill="#d4827a"/><circle cx="40.8" cy="7.8" r="2.0" fill="#d4827a"/><circle cx="40.8" cy="31.8" r="2.0" fill="#d4827a"/><circle cx="-10.3" cy="-6.9" r="0.8" fill="#b85a52"/><circle cx="-10.3" cy="17.1" r="0.8" fill="#b85a52"/><circle cx="-10.3" cy="41.1" r="0.8" fill="#b85a52"/><circle cx="13.7" cy="-6.9" r="0.8" fill="#b85a52"/><circle cx="13.7" cy="17.1" r="0.8" fill="#b85a52"/><circle cx="13.7" cy="41.1" r="0.8" fill="#b85a52"/><circle cx="37.7" cy="-6.9" r="0.8" fill="#b85a52"/><circle cx="37.7" cy="17.1" r="0.8" fill="#b85a52"/><circle cx="37.7" cy="41.1" r="0.8" fill="#b85a52"/><circle cx="-4.0" cy="-10.2" r="0.9" fill="#b85a52"/><circle cx="-4.0" cy="13.8" r="0.9" fill="#b85a52"/><circle cx="-4.0" cy="37.8" r="0.9" fill="#b85a52"/><circle cx="20.0" cy="-10.2" r="0.9" fill="#b85a52"/><circle cx="20.0" cy="13.8" r="0.9" fill="#b85a52"/><circle cx="20.0" cy="37.8" r="0.9" fill="#b85a52"/><circle cx="44.0" cy="-10.2" r="0.9" fill="#b85a52"/><circle cx="44.0" cy="13.8" r="0.9" fill="#b85a52"/><circle cx="44.0" cy="37.8" r="0.9" fill="#b85a52"/><circle cx="-22.5" cy="-3.5" r="1.3" fill="#b85a52"/><circle cx="-22.5" cy="20.5" r="1.3" fill="#b85a52"/><circle cx="-22.5" cy="44.5" r="1.3" fill="#b85a52"/><circle cx="1.5" cy="-3.5" r="1.3" fill="#b85a52"/><circle cx="1.5" cy="20.5" r="1.3" fill="#b85a52"/><circle cx="1.5" cy="44.5" r="1.3" fill="#b85a52"/><circle cx="25.5" cy="-3.5" r="1.3" fill="#b85a52"/><circle cx="25.5" cy="20.5" r="1.3" fill="#b85a52"/><circle cx="25.5" cy="44.5" r="1.3" fill="#b85a52"/><circle cx="-21.9" cy="-4.8" r="0.9" fill="#b85a52"/><circle cx="-21.9" cy="19.2" r="0.9" fill="#b85a52"/><circle cx="-21.9" cy="43.2" r="0.9" fill="#b85a52"/><circle cx="2.1" cy="-4.8" r="0.9" fill="#b85a52"/><circle cx="2.1" cy="19.2" r="0.9" fill="#b85a52"/><circle cx="2.1" cy="43.2" r="0.9" fill="#b85a52"/><circle cx="26.1" cy="-4.8" r="0.9" fill="#b85a52"/><circle cx="26.1" cy="19.2" r="0.9" fill="#b85a52"/><circle cx="26.1" cy="43.2" r="0.9" fill="#b85a52"/><circle cx="-20.4" cy="-16.9" r="1.2" fill="#b85a52"/><circle cx="-20.4" cy="7.1" r="1.2" fill="#b85a52"/><circle cx="-20.4" cy="31.1" r="1.2" fill="#b85a52"/><circle cx="3.6" cy="-16.9" r="1.2" fill="#b85a52"/><circle cx="3.6" cy="7.1" r="1.2" fill="#b85a52"/><circle cx="3.6" cy="31.1" r="1.2" fill="#b85a52"/><circle cx="27.6" cy="-16.9" r="1.2" fill="#b85a52"/><circle cx="27.6" cy="7.1" r="1.2" fill="#b85a52"/><circle cx="27.6" cy="31.1" r="1.2" fill="#b85a52"/><circle cx="-3.1" cy="-22.9" r="1.1" fill="#b85a52"/><circle cx="-3.1" cy="1.1" r="1.1" fill="#b85a52"/><circle cx="-3.1" cy="25.1" r="1.1" fill="#b85a52"/><circle cx="20.9" cy="-22.9" r="1.1" fill="#b85a52"/><circle cx="20.9" cy="1.1" r="1.1" fill="#b85a52"/><circle cx="20.9" cy="25.1" r="1.1" fill="#b85a52"/><circle cx="44.9" cy="-22.9" r="1.1" fill="#b85a52"/><circle cx="44.9" cy="1.1" r="1.1" fill="#b85a52"/><circle cx="44.9" cy="25.1" r="1.1" fill="#b85a52"/><circle cx="-22.9" cy="-6.8" r="0.9" fill="#b85a52"/><circle cx="-22.9" cy="17.2" r="0.9" fill="#b85a52"/><circle cx="-22.9" cy="41.2" r="0.9" fill="#b85a52"/><circle cx="1.1" cy="-6.8" r="0.9" fill="#b85a52"/><circle cx="1.1" cy="17.2" r="0.9" fill="#b85a52"/><circle cx="1.1" cy="41.2" r="0.9" fill="#b85a52"/><circle cx="25.1" cy="-6.8" r="0.9" fill="#b85a52"/><circle cx="25.1" cy="17.2" r="0.9" fill="#b85a52"/><circle cx="25.1" cy="41.2" r="0.9" fill="#b85a52"/><circle cx="-2.9" cy="-0.5" r="1.0" fill="#b85a52"/><circle cx="-2.9" cy="23.5" r="1.0" fill="#b85a52"/><circle cx="-2.9" cy="47.5" r="1.0" fill="#b85a52"/><circle cx="21.1" cy="-0.5" r="1.0" fill="#b85a52"/><circle cx="21.1" cy="23.5" r="1.0" fill="#b85a52"/><circle cx="21.1" cy="47.5" r="1.0" fill="#b85a52"/><circle cx="45.1" cy="-0.5" r="1.0" fill="#b85a52"/><circle cx="45.1" cy="23.5" r="1.0" fill="#b85a52"/><circle cx="45.1" cy="47.5" r="1.0" fill="#b85a52"/></pattern><linearGradient id="gapg" x1="355" y1="0" x2="420" y2="0" gradientUnits="userSpaceOnUse"><stop offset="0" stop-color="#efbdb0"/><stop offset="1" stop-color="#f3f6f9"/></linearGradient></defs>
<path d="M372.8,346.8 C392,356 412,366 432,369.5 C455,373 485,371.5 512,367.5 C532,364.5 550,362 560,359 C566,357 570,351 575,345 C590,327 610,318 646,317 C682,317 705,328 722,346 C732,356 742,358.5 761,358.7 L990,357 L990,420.5 L761,418 C742,418 734,420 724,432 C708,452 682,463 646,463 C610,463 588,452 575,435 C566,426 555,424 540,425 C520,425.5 500,424.5 480,422 C450,418 420,413 395,408 C375,404 360,401 349.6,400.2 L340,385 L360,352 Z" fill="#f0c2b5"/>
<path d="M735,367 L990,367" stroke="#df9e94" stroke-width="8" fill="none"/>
<path d="M735,409.3 L990,409.3" stroke="#df9e94" stroke-width="6" fill="none"/>
<path d="M381,363 C400,372 415,377 430,379 C450,381.5 480,381.5 510,379 C535,376.5 555,372 568,368" stroke="#d98e84" stroke-width="7" fill="none" stroke-linecap="round"/>
<path d="M348,392 C370,396 390,401 410,405 C440,411 470,416 500,416.5 C530,416.5 552,414 568,413" stroke="#d98e84" stroke-width="7.5" fill="none" stroke-linecap="round"/>
<path d="M360,366 C380,374 400,382 422,387.9 C440,391 460,392.6 480,392.6 C510,392 535,388 558,382 C565,380 570,378 578,376 L578,408 C570,406 565,404 558,403.6 C540,404 510,408 480,408.4 C460,408.4 440,405.5 422,401.5 C400,396 380,390 360,385 Z" fill="url(#gapg)"/>
<path d="M360,366 C380,374 400,382 422,387.9 C440,391 460,392.6 480,392.6 C510,392 535,388 558,382 C565,380 570,378 578,376 L578,392 L558,393.5 C535,398 510,404 480,404.3 C460,404.3 440,403.5 422,400 C400,393 380,385 360.5,375.5 Z" fill="#abc9e0"/>
<path d="M410,385 C430,391 450,394.5 480,395 C510,394.5 535,390 560,385" stroke="#e6f0f7" stroke-width="2.5" fill="none"/>
<path d="M360,366 C380,374 400,382 422,387.9 C440,391 460,392.6 480,392.6 C510,392 535,388 558,382 C565,380 570,378 578,376" stroke="#4a1c1c" stroke-width="1.9" fill="none"/>
<path d="M344,382.4 C348,382 352,383 360,385 C380,390 400,396 422,401.5 C440,405.5 460,408.4 480,408.4 C510,408 540,404 558,403.6 C565,404 570,406 578,408" stroke="#4a1c1c" stroke-width="1.9" fill="none"/>
<path d="M344,382.4 C339,384 338,390 340,393" stroke="#4a1c1c" stroke-width="1.9" fill="none"/>
<path d="M368.0,374.0 L379.6,379.4" stroke="#1b2530" stroke-width="2.6" fill="none"/>
<path d="M385.0,382.0 L378.1,382.6 L381.1,376.3 Z" fill="#1b2530"/>
<path d="M418.0,395.0 L428.1,397.2" stroke="#1b2530" stroke-width="2.6" fill="none"/>
<path d="M434.0,398.5 L427.4,400.6 L428.9,393.8 Z" fill="#1b2530"/>
<path d="M461.0,398.0 L474.0,397.3" stroke="#1b2530" stroke-width="2.6" fill="none"/>
<path d="M480.0,397.0 L474.2,400.8 L473.8,393.8 Z" fill="#1b2530"/>
<path d="M513.0,392.5 L525.1,390.8" stroke="#1b2530" stroke-width="2.6" fill="none"/>
<path d="M531.0,390.0 L525.5,394.3 L524.6,387.4 Z" fill="#1b2530"/>
<circle cx="356.5" cy="365.4" r="4.3" fill="#fbf0e2" stroke="#4a1c1c" stroke-width="1.5"/>
<circle cx="372.5" cy="355.4" r="4.6" fill="#f1c5b8" stroke="#4a1c1c" stroke-width="1.5"/>
<path d="M569,390 C569,360 610,337 646,336 C690,337 733,360 733,390 C733,420 690,438 646,438 C610,438 569,420 569,390 Z" fill="url(#pcream)"/>
<path d="M570,384 L592,386 L592,392 L570,393 Z" fill="#b7d1e4" opacity="0.8"/>
<path d="M571.5,369 C575,350 598,326 646,323.5 C690,323 722,345 728,370 C712,360 690,345 646,338 C610,342 590,355 571.5,369 Z" fill="url(#redtex)" stroke="#4a1c1c" stroke-width="1.9" stroke-linejoin="round"/>
<path d="M571.5,412 C578,438 600,459 646,460 C690,459 722,437 729,409 C712,420 690,432 646,437 C610,432 590,420 571.5,412 Z" fill="url(#redtex)" stroke="#4a1c1c" stroke-width="1.9" stroke-linejoin="round"/>
<path d="M372.8,346.8 C392,356 412,366 432,369.5 C455,373 485,371.5 512,367.5 C532,364.5 550,362 560,359 C566,357 570,351 575,345 C590,327 610,318 646,317 C682,317 705,328 722,346 C732,356 742,358.5 761,358.7 L935,357.4" stroke="#4a1c1c" stroke-width="2" fill="none"/>
<path d="M935,420.2 L761,418 C742,418 734,420 724,432 C708,452 682,463 646,463 C610,463 588,452 575,435 C566,426 555,424 540,425 C520,425.5 500,424.5 480,422 C450,418 420,413 395,408 C375,404 360,401 349.6,400.2" stroke="#4a1c1c" stroke-width="2" fill="none"/>
<rect x="720" y="374" width="58.8" height="28.5" rx="5" fill="#f6e6e1" stroke="#4a1c1c" stroke-width="1.1"/>
<rect x="722" y="382" width="52" height="12" fill="#b9d2e5"/>
<path d="M748,389 L772,389" stroke="#1b2530" stroke-width="2.4"/>
<path d="M560.0,389.0 C566.7,387.3 566.7,383.7 580.0,384.0 C593.3,384.3 586.7,390.3 600.0,390.0 C613.3,389.7 606.7,383.7 620.0,383.0 C633.3,382.3 626.7,387.7 640.0,388.0 C653.3,388.3 646.7,383.7 660.0,384.0 C673.3,384.3 666.7,389.0 680.0,389.0 C693.3,389.0 686.7,383.7 700.0,384.0 C713.3,384.3 708.3,389.0 720.0,390.0 C731.7,391.0 730.0,388.0 735.0,387.0" stroke="#8fb0c8" stroke-width="1.6" fill="none"/>
<path d="M561.0,392.0 C564.0,392.0 565.6,381.0 568.6,381.0 C570.9,381.0 572.1,397.7 574.4,397.7 C578.3,397.7 580.3,368.4 584.2,368.4 C588.1,368.4 590.1,411.3 594.0,411.3 C597.9,411.3 599.8,358.6 603.7,358.6 C608.0,358.6 610.2,419.1 614.5,419.1 C618.8,419.1 620.9,347.9 625.2,347.9 C629.9,347.9 632.2,422.0 636.9,422.0 C641.2,422.0 643.4,348.8 647.7,348.8 C654.7,348.8 658.2,423.0 665.2,423.0 C668.7,423.0 670.5,351.2 674.0,351.2 C678.3,351.2 680.5,419.1 684.8,419.1 C688.3,419.1 690.1,360.5 693.6,360.5 C697.1,360.5 698.8,413.3 702.3,413.3 C706.2,413.3 708.2,368.4 712.1,368.4 C715.3,368.4 716.8,401.6 720.0,401.6 C723.1,401.6 724.6,382.0 727.7,382.0 C730.1,382.0 731.2,394.7 733.6,394.7" stroke="#3d6f8e" stroke-width="2.1" fill="none"/>
<rect x="895" y="345" width="85" height="85" fill="url(#fadeR)"/>
<rect x="979" y="345" width="45" height="85" fill="#fefefe"/>
<defs><radialGradient id="gcirc" cx="0.45" cy="0.4" r="0.6"><stop offset="0" stop-color="#eef4f9"/><stop offset="1" stop-color="#b9d0e2"/></radialGradient><linearGradient id="a1" x1="0" y1="0.5" x2="1" y2="0.5"><stop offset="0" stop-color="#f3e6e6" stop-opacity="0"/><stop offset="0.12" stop-color="#e4e2ea" stop-opacity="0.6"/><stop offset="0.4" stop-color="#a8c5dc" stop-opacity="1"/><stop offset="1" stop-color="#9bbbd6"/></linearGradient><linearGradient id="gba" x1="0" y1="0.5" x2="1" y2="0.5"><stop offset="0" stop-color="#8fb3d2"/><stop offset="0.45" stop-color="#b3cde1"/><stop offset="0.75" stop-color="#dfeaf3"/><stop offset="1" stop-color="#c9dbe9"/></linearGradient><linearGradient id="a3" x1="0" y1="0" x2="0" y2="1"><stop offset="0" stop-color="#c6d9e8" stop-opacity="0.5"/><stop offset="0.35" stop-color="#a8c5dc"/><stop offset="1" stop-color="#9bbcd7"/></linearGradient><radialGradient id="gblob" cx="0.7" cy="0.55" r="0.6"><stop offset="0" stop-color="#eef4f8"/><stop offset="1" stop-color="#b7cfe2"/></radialGradient></defs>
<path d="M462,277 C490,265 520,250 551,246 L549.9,239.2 L573.8,250.6 L554.3,267.2 L553.5,260 C522,263.5 495,278 464,292 Z" fill="url(#a1)"/>
<path d="M510,256.5 C525,251 538,247.5 551,246 L549.9,239.2 L573.8,250.6 L554.3,267.2 L553.5,260 C540,261 526,264 512,268" fill="none" stroke="#5f86a8" stroke-width="1" stroke-opacity="0.75" stroke-linejoin="round"/>
<path d="M597.3,260.9 L602.5,282 L595.8,278.1 C593,288 594,298 599,306 L606.5,303.5 L603.6,324.5 L583.5,315.8 L593.4,314 C586,304 582,292 587.2,275 L579,273.4 Z" fill="#a0bfd9" stroke="#5f86a8" stroke-width="1.2" stroke-linejoin="round"/>
<path d="M627,261 C633,272 637,288 638.5,301.6 L628.3,300 L638,317.5 L651.5,302.3 L646.6,301.6 C645,285 643,270 639,258 Z" fill="url(#a3)" stroke="#5f86a8" stroke-width="1.1" stroke-opacity="0.85" stroke-linejoin="round"/>
<path d="M656,244 C679,251 698,270 706.5,294 L715.8,292 L706,315.2 L688.3,298.4 L696.6,297 C690,278 677,263 652,256 Z" fill="url(#a3)" stroke="#5f86a8" stroke-width="1.1" stroke-opacity="0.85" stroke-linejoin="round"/>
<circle cx="616.4" cy="217.2" r="41" fill="url(#gcirc)" stroke="#5b7b96" stroke-width="1.6"/>
<text x="581.5" y="225" font-size="25.5" fill="#151515" textLength="71" lengthAdjust="spacingAndGlyphs">GHRH</text>
<path d="M346.5,407.8 L371.9,414.1 L366,419.5 C380,432 400,446 430,454 C455,458 478,452 495,440 C508,430 520,427 535,430 C555,436 566,452 567.4,470 C568,480 558,486 557,498 C555,508 545,511 530,510 C510,507 495,497 475,488 C455,480 430,474 405,463 C385,455 370,444 361,430 L351.6,434.4 Z" fill="url(#gba)" stroke="#7d9fbd" stroke-width="1.4"/>
<text x="483.5" y="473.75" font-size="28" fill="#151515" textLength="71.5" lengthAdjust="spacingAndGlyphs">GHRH</text>
<line x1="187" y1="658" x2="917" y2="658" stroke="#9a9a9a" stroke-width="1.6"/>
<line x1="187" y1="717.5" x2="917" y2="717.5" stroke="#9a9a9a" stroke-width="1.6"/>
<line x1="187" y1="782" x2="917" y2="782" stroke="#9a9a9a" stroke-width="1.6"/>
<line x1="187" y1="848" x2="917" y2="848" stroke="#9a9a9a" stroke-width="1.6"/>
<path d="M186.0,920.0 C192.6,920.0 199.4,919.5 206.0,919.5 C211.9,919.5 218.1,915.0 224.0,915.0 C228.2,915.0 232.6,876.4 236.8,876.4 C239.7,876.4 242.6,909.0 245.5,909.0 C250.8,909.0 256.3,826.0 261.6,826.0 C264.3,826.0 267.1,884.4 269.8,884.4 C279.0,884.4 288.4,704.5 297.6,704.5 C307.8,704.5 318.4,911.6 328.6,911.6 C334.1,911.6 339.7,697.0 345.2,697.0 C349.6,697.0 354.0,891.8 358.4,891.8 C362.2,891.8 366.2,824.8 370.0,824.8 C374.0,824.8 378.0,900.5 382.0,900.5 C383.8,900.5 385.6,903.0 387.4,903.0 C389.9,903.0 392.4,896.7 394.9,896.7 C405.5,896.7 416.5,735.5 427.1,735.5 C433.2,735.5 439.6,865.7 445.7,865.7 C448.2,865.7 450.7,859.5 453.2,859.5 C456.9,859.5 460.6,878.0 464.3,878.0 C468.4,878.0 472.6,776.4 476.7,776.4 C479.8,776.4 483.1,877.0 486.2,877.0 C490.4,877.0 494.8,692.9 499.0,692.9 C501.9,692.9 504.8,805.0 507.7,805.0 C510.6,805.0 513.5,888.0 516.4,888.0 C520.1,888.0 523.9,818.6 527.6,818.6 C530.5,818.6 533.4,891.8 536.3,891.8 C537.8,891.8 539.2,890.5 540.7,890.5 C542.4,890.5 544.3,908.0 546.0,908.0 C548.3,908.0 550.7,912.0 553.0,912.0 C555.3,912.0 557.7,909.0 560.0,909.0 C562.0,909.0 564.0,913.0 566.0,913.0 C567.6,913.0 569.4,910.0 571.0,910.0 C572.6,910.0 574.4,913.0 576.0,913.0 C579.8,913.0 583.6,894.3 587.4,894.3 C589.2,894.3 591.2,908.0 593.0,908.0 C595.2,908.0 597.6,900.5 599.8,900.5 C601.5,900.5 603.3,910.0 605.0,910.0 C607.3,910.0 609.7,910.0 612.0,910.0 C614.1,910.0 616.3,891.8 618.4,891.8 C626.0,891.8 633.7,708.2 641.3,708.2 C647.3,708.2 653.4,906.7 659.4,906.7 C664.7,906.7 670.2,781.4 675.5,781.4 C679.2,781.4 682.9,900.5 686.6,900.5 C688.9,900.5 691.3,879.4 693.6,879.4 C695.4,879.4 697.2,905.4 699.0,905.4 C702.3,905.4 705.7,901.7 709.0,901.7 C711.0,901.7 713.2,909.0 715.2,909.0 C728.0,909.0 741.2,705.0 754.0,705.0 C758.4,705.0 762.9,814.0 767.3,814.0 C770.2,814.0 773.1,764.0 776.0,764.0 C779.9,764.0 783.8,895.5 787.7,895.5 C792.8,895.5 798.1,729.3 803.2,729.3 C807.1,729.3 811.0,853.3 814.9,853.3 C821.4,853.3 828.2,705.8 834.7,705.8 C844.4,705.8 854.3,910.4 864.0,910.4 C870.5,910.4 877.3,711.5 883.8,711.5 C888.7,711.5 893.8,915.3 898.7,915.3 C904.7,915.3 911.0,919.5 917.0,919.5 L917,920 L186,920 Z" fill="#aec8da"/>
<path d="M186.0,920.0 C192.6,920.0 199.4,920.2 206.0,919.5 C212.6,918.8 219.4,917.6 226.0,916.0 C233.3,914.2 240.7,914.2 248.0,909.0 C255.2,903.8 262.6,884.4 269.8,884.4 C279.0,884.4 288.4,704.5 297.6,704.5 C306.6,704.5 316.0,887.0 325.0,887.0 C330.6,887.0 336.4,844.6 342.0,844.6 C347.8,844.6 353.8,880.9 359.6,893.0 C362.9,899.8 366.2,901.7 369.5,901.7 C371.1,901.7 372.9,896.7 374.5,896.7 C378.6,896.7 382.9,903.0 387.0,903.0 C389.6,903.0 392.3,902.4 394.9,896.7 C397.2,891.5 399.7,881.1 402.0,870.0 C404.6,857.5 407.4,835.6 410.0,825.0 C412.6,814.4 415.4,809.5 418.0,806.0 C422.2,800.4 426.6,797.5 430.8,797.5 C435.5,797.5 440.3,803.6 445.0,808.0 C447.3,810.1 449.6,810.6 451.9,817.4 C454.2,824.4 456.7,838.8 459.0,850.0 C462.0,864.2 465.0,894.3 468.0,894.3 C470.9,894.3 473.8,880.6 476.7,880.6 C480.0,880.6 483.3,896.7 486.6,896.7 C494.8,896.7 503.2,879.4 511.4,879.4 C515.5,879.4 519.7,880.6 523.8,884.3 C527.2,887.4 530.6,896.1 534.0,900.0 C538.0,904.6 542.0,908.6 546.0,910.0 C555.6,913.5 565.4,915.0 575.0,915.0 C586.5,915.0 598.5,914.7 610.0,912.0 C614.0,911.1 618.0,905.7 622.0,904.0 C625.7,902.4 629.6,902.2 633.3,902.2 C641.1,902.2 649.1,909.0 656.9,909.0 C663.0,909.0 669.4,880.6 675.5,880.6 C680.8,880.6 686.3,892.4 691.6,900.5 C693.2,903.0 695.0,912.9 696.6,912.9 C701.5,912.9 706.5,915.8 711.4,910.4 C714.9,906.6 718.5,896.4 722.0,885.0 C725.3,874.2 728.7,852.6 732.0,843.0 C736.3,830.5 740.7,823.0 745.0,818.0 C748.6,813.7 752.4,815.9 756.0,814.9 C760.6,813.7 765.2,811.2 769.8,811.2 C772.2,811.2 774.6,819.7 777.0,825.0 C779.6,830.9 782.4,839.6 785.0,845.0 C789.3,853.8 793.7,861.1 798.0,868.0 C801.0,872.8 804.0,880.6 807.0,880.6 C809.4,880.6 812.0,872.1 814.4,869.5 C817.7,866.0 821.0,862.0 824.3,862.0 C826.8,862.0 829.3,863.3 831.8,863.3 C834.2,863.3 836.8,843.4 839.2,843.4 C843.4,843.4 847.8,874.6 852.0,885.0 C856.0,894.7 860.0,898.3 864.0,904.2 C866.6,908.2 869.4,914.2 872.0,915.0 C886.9,919.3 902.1,919.5 917.0,919.5 L917,920 L186,920 Z" fill="#aec8da"/>
<line x1="224" y1="659" x2="224" y2="919" stroke="#8a8a8a" stroke-width="1.1" stroke-dasharray="3,3"/>
<line x1="279" y1="659" x2="279" y2="919" stroke="#8a8a8a" stroke-width="1.1" stroke-dasharray="3,3"/>
<line x1="386.5" y1="659" x2="386.5" y2="919" stroke="#8a8a8a" stroke-width="1.1" stroke-dasharray="3,3"/>
<line x1="498.5" y1="659" x2="498.5" y2="919" stroke="#8a8a8a" stroke-width="1.1" stroke-dasharray="3,3"/>
<line x1="552.5" y1="659" x2="552.5" y2="919" stroke="#8a8a8a" stroke-width="1.1" stroke-dasharray="3,3"/>
<line x1="607.5" y1="659" x2="607.5" y2="919" stroke="#8a8a8a" stroke-width="1.1" stroke-dasharray="3,3"/>
<line x1="708.5" y1="659" x2="708.5" y2="919" stroke="#8a8a8a" stroke-width="1.1" stroke-dasharray="3,3"/>
<line x1="813.5" y1="659" x2="813.5" y2="919" stroke="#8a8a8a" stroke-width="1.1" stroke-dasharray="3,3"/>
<line x1="865.5" y1="659" x2="865.5" y2="919" stroke="#8a8a8a" stroke-width="1.1" stroke-dasharray="3,3"/>
<path d="M287.5,684.0 L307.7,684.0 C321.1,684.0 328.8,694.8 335.5,700.2 C328.3,705.1 316.3,706.5 304.3,706.8 C294.7,707.1 289.4,709.1 287.5,712.5 Z" fill="#88abc8"/>
<path d="M287.5,715.9 C297.1,714.0 309.1,713.5 316.3,715.9 C323.5,718.2 330.7,721.0 335.5,723.9 C325.9,732.3 311.5,737.0 299.5,737.5 L287.5,737.5 Z" fill="#bad1e3"/>
<path d="M341.5,680.0 L362.1,680.0 C375.8,680.0 383.6,689.5 390.5,694.2 C383.1,698.5 370.9,699.8 358.6,700.0 C348.9,700.2 343.5,702.0 341.5,705.0 Z" fill="#8db0cc"/>
<path d="M341.5,712.0 C351.3,710.0 363.6,709.5 370.9,712.0 C378.2,714.5 385.6,717.5 390.5,720.5 C380.7,729.5 366.0,734.5 353.8,735.0 L341.5,735.0 Z" fill="#b0cbe0"/>
<path d="M395.0,685.5 L416.0,685.5 C430.0,685.5 438.0,696.5 445.0,702.0 C437.5,707.0 425.0,708.4 412.5,708.7 C402.5,709.0 397.0,711.0 395.0,714.5 Z" fill="#86a9c6"/>
<path d="M395.0,718.5 C405.0,716.5 417.5,716.0 425.0,718.5 C432.5,721.0 440.0,724.0 445.0,727.0 C435.0,736.0 420.0,741.0 407.5,741.5 L395.0,741.5 Z" fill="#c6dae9"/>
<path d="M504.0,680.0 L524.6,680.0 C538.3,680.0 546.1,691.0 553.0,696.5 C545.6,701.5 533.4,702.9 521.1,703.2 C511.4,703.5 506.0,705.5 504.0,709.0 Z" fill="#a6c2d8"/>
<path d="M504.0,711.9 C513.8,710.0 526.0,709.5 533.4,711.9 C540.8,714.3 548.1,717.2 553.0,720.1 C543.2,728.7 528.5,733.5 516.2,734.0 L504.0,734.0 Z" fill="#bad1e3"/>
<path d="M557.5,680.0 L577.7,680.0 C591.1,680.0 598.8,690.5 605.5,695.7 C598.3,700.4 586.3,701.7 574.3,702.0 C564.7,702.3 559.4,704.2 557.5,707.5 Z" fill="#c6dae9"/>
<path d="M557.5,711.9 C567.1,710.0 579.1,709.5 586.3,711.9 C593.5,714.3 600.7,717.2 605.5,720.1 C595.9,728.7 581.5,733.5 569.5,734.0 L557.5,734.0 Z" fill="#bad1e3"/>
<path d="M611.0,679.0 L632.0,679.0 C646.0,679.0 654.0,689.8 661.0,695.2 C653.5,700.1 641.0,701.5 628.5,701.8 C618.5,702.1 613.0,704.1 611.0,707.5 Z" fill="#c6dae9"/>
<path d="M611.0,711.0 C621.0,709.0 633.5,708.5 641.0,711.0 C648.5,713.5 656.0,716.5 661.0,719.5 C651.0,728.5 636.0,733.5 623.5,734.0 L611.0,734.0 Z" fill="#bad1e3"/>
<path d="M667.0,679.0 L688.0,679.0 C702.0,679.0 710.0,689.3 717.0,694.4 C709.5,699.0 697.0,700.3 684.5,700.6 C674.5,700.9 669.0,702.8 667.0,706.0 Z" fill="#86a9c6"/>
<path d="M667.0,710.0 C677.0,708.0 689.5,707.5 697.0,710.0 C704.5,712.5 712.0,715.5 717.0,718.5 C707.0,727.5 692.0,732.5 679.5,733.0 L667.0,733.0 Z" fill="#c6dae9"/>
<path d="M818.0,676.5 L838.2,676.5 C851.6,676.5 859.3,687.3 866.0,692.7 C858.8,697.6 846.8,699.0 834.8,699.3 C825.2,699.6 819.9,701.6 818.0,705.0 Z" fill="#9dbbd4"/>
<path d="M818.0,708.1 C827.6,706.0 839.6,705.5 846.8,708.1 C854.0,710.8 861.2,714.0 866.0,717.1 C856.4,726.7 842.0,732.0 830.0,732.5 L818.0,732.5 Z" fill="#aac5db"/>
<path d="M186.0,920.0 C192.6,920.0 199.4,920.2 206.0,919.5 C212.6,918.8 219.4,917.6 226.0,916.0 C233.3,914.2 240.7,914.2 248.0,909.0 C255.2,903.8 262.6,884.4 269.8,884.4 C279.0,884.4 288.4,704.5 297.6,704.5 C306.6,704.5 316.0,887.0 325.0,887.0 C330.6,887.0 336.4,844.6 342.0,844.6 C347.8,844.6 353.8,880.9 359.6,893.0 C362.9,899.8 366.2,901.7 369.5,901.7 C371.1,901.7 372.9,896.7 374.5,896.7 C378.6,896.7 382.9,903.0 387.0,903.0 C389.6,903.0 392.3,902.4 394.9,896.7 C397.2,891.5 399.7,881.1 402.0,870.0 C404.6,857.5 407.4,835.6 410.0,825.0 C412.6,814.4 415.4,809.5 418.0,806.0 C422.2,800.4 426.6,797.5 430.8,797.5 C435.5,797.5 440.3,803.6 445.0,808.0 C447.3,810.1 449.6,810.6 451.9,817.4 C454.2,824.4 456.7,838.8 459.0,850.0 C462.0,864.2 465.0,894.3 468.0,894.3 C470.9,894.3 473.8,880.6 476.7,880.6 C480.0,880.6 483.3,896.7 486.6,896.7 C494.8,896.7 503.2,879.4 511.4,879.4 C515.5,879.4 519.7,880.6 523.8,884.3 C527.2,887.4 530.6,896.1 534.0,900.0 C538.0,904.6 542.0,908.6 546.0,910.0 C555.6,913.5 565.4,915.0 575.0,915.0 C586.5,915.0 598.5,914.7 610.0,912.0 C614.0,911.1 618.0,905.7 622.0,904.0 C625.7,902.4 629.6,902.2 633.3,902.2 C641.1,902.2 649.1,909.0 656.9,909.0 C663.0,909.0 669.4,880.6 675.5,880.6 C680.8,880.6 686.3,892.4 691.6,900.5 C693.2,903.0 695.0,912.9 696.6,912.9 C701.5,912.9 706.5,915.8 711.4,910.4 C714.9,906.6 718.5,896.4 722.0,885.0 C725.3,874.2 728.7,852.6 732.0,843.0 C736.3,830.5 740.7,823.0 745.0,818.0 C748.6,813.7 752.4,815.9 756.0,814.9 C760.6,813.7 765.2,811.2 769.8,811.2 C772.2,811.2 774.6,819.7 777.0,825.0 C779.6,830.9 782.4,839.6 785.0,845.0 C789.3,853.8 793.7,861.1 798.0,868.0 C801.0,872.8 804.0,880.6 807.0,880.6 C809.4,880.6 812.0,872.1 814.4,869.5 C817.7,866.0 821.0,862.0 824.3,862.0 C826.8,862.0 829.3,863.3 831.8,863.3 C834.2,863.3 836.8,843.4 839.2,843.4 C843.4,843.4 847.8,874.6 852.0,885.0 C856.0,894.7 860.0,898.3 864.0,904.2 C866.6,908.2 869.4,914.2 872.0,915.0 C886.9,919.3 902.1,919.5 917.0,919.5" fill="none" stroke="#2d5f7e" stroke-width="2.4" stroke-linejoin="round"/>
<path d="M186.0,920.0 C192.6,920.0 199.4,919.5 206.0,919.5 C211.9,919.5 218.1,915.0 224.0,915.0 C228.2,915.0 232.6,876.4 236.8,876.4 C239.7,876.4 242.6,909.0 245.5,909.0 C250.8,909.0 256.3,826.0 261.6,826.0 C264.3,826.0 267.1,884.4 269.8,884.4 C279.0,884.4 288.4,704.5 297.6,704.5 C307.8,704.5 318.4,911.6 328.6,911.6 C334.1,911.6 339.7,697.0 345.2,697.0 C349.6,697.0 354.0,891.8 358.4,891.8 C362.2,891.8 366.2,824.8 370.0,824.8 C374.0,824.8 378.0,900.5 382.0,900.5 C383.8,900.5 385.6,903.0 387.4,903.0 C389.9,903.0 392.4,896.7 394.9,896.7 C405.5,896.7 416.5,735.5 427.1,735.5 C433.2,735.5 439.6,865.7 445.7,865.7 C448.2,865.7 450.7,859.5 453.2,859.5 C456.9,859.5 460.6,878.0 464.3,878.0 C468.4,878.0 472.6,776.4 476.7,776.4 C479.8,776.4 483.1,877.0 486.2,877.0 C490.4,877.0 494.8,692.9 499.0,692.9 C501.9,692.9 504.8,805.0 507.7,805.0 C510.6,805.0 513.5,888.0 516.4,888.0 C520.1,888.0 523.9,818.6 527.6,818.6 C530.5,818.6 533.4,891.8 536.3,891.8 C537.8,891.8 539.2,890.5 540.7,890.5 C542.4,890.5 544.3,908.0 546.0,908.0 C548.3,908.0 550.7,912.0 553.0,912.0 C555.3,912.0 557.7,909.0 560.0,909.0 C562.0,909.0 564.0,913.0 566.0,913.0 C567.6,913.0 569.4,910.0 571.0,910.0 C572.6,910.0 574.4,913.0 576.0,913.0 C579.8,913.0 583.6,894.3 587.4,894.3 C589.2,894.3 591.2,908.0 593.0,908.0 C595.2,908.0 597.6,900.5 599.8,900.5 C601.5,900.5 603.3,910.0 605.0,910.0 C607.3,910.0 609.7,910.0 612.0,910.0 C614.1,910.0 616.3,891.8 618.4,891.8 C626.0,891.8 633.7,708.2 641.3,708.2 C647.3,708.2 653.4,906.7 659.4,906.7 C664.7,906.7 670.2,781.4 675.5,781.4 C679.2,781.4 682.9,900.5 686.6,900.5 C688.9,900.5 691.3,879.4 693.6,879.4 C695.4,879.4 697.2,905.4 699.0,905.4 C702.3,905.4 705.7,901.7 709.0,901.7 C711.0,901.7 713.2,909.0 715.2,909.0 C728.0,909.0 741.2,705.0 754.0,705.0 C758.4,705.0 762.9,814.0 767.3,814.0 C770.2,814.0 773.1,764.0 776.0,764.0 C779.9,764.0 783.8,895.5 787.7,895.5 C792.8,895.5 798.1,729.3 803.2,729.3 C807.1,729.3 811.0,853.3 814.9,853.3 C821.4,853.3 828.2,705.8 834.7,705.8 C844.4,705.8 854.3,910.4 864.0,910.4 C870.5,910.4 877.3,711.5 883.8,711.5 C888.7,711.5 893.8,915.3 898.7,915.3 C904.7,915.3 911.0,919.5 917.0,919.5" fill="none" stroke="#2d5f7e" stroke-width="2.4" stroke-linejoin="round"/>
<line x1="186" y1="920" x2="918" y2="920" stroke="#1a1a1a" stroke-width="2.2"/>
<line x1="187" y1="656" x2="187" y2="921" stroke="#1a1a1a" stroke-width="2.2"/>
<line x1="181" y1="658" x2="187" y2="658" stroke="#1a1a1a" stroke-width="1.6"/>
<line x1="181" y1="717.5" x2="187" y2="717.5" stroke="#1a1a1a" stroke-width="1.6"/>
<line x1="181" y1="782" x2="187" y2="782" stroke="#1a1a1a" stroke-width="1.6"/>
<line x1="181" y1="848" x2="187" y2="848" stroke="#1a1a1a" stroke-width="1.6"/>
<line x1="181" y1="920" x2="187" y2="920" stroke="#1a1a1a" stroke-width="1.6"/>
<line x1="223.5" y1="920" x2="223.5" y2="932.5" stroke="#1a1a1a" stroke-width="1.8"/>
<text x="223.5" y="959.3" font-size="23.5" text-anchor="middle" fill="#111" stroke="#111" stroke-width="0.35" textLength="12.4" lengthAdjust="spacingAndGlyphs">0</text>
<line x1="278.7" y1="920" x2="278.7" y2="932.5" stroke="#1a1a1a" stroke-width="1.8"/>
<text x="278.7" y="959.3" font-size="23.5" text-anchor="middle" fill="#111" stroke="#111" stroke-width="0.35" textLength="12.4" lengthAdjust="spacingAndGlyphs">2</text>
<line x1="333.5" y1="920" x2="333.5" y2="932.5" stroke="#1a1a1a" stroke-width="1.8"/>
<text x="333.5" y="959.3" font-size="23.5" text-anchor="middle" fill="#111" stroke="#111" stroke-width="0.35" textLength="12.4" lengthAdjust="spacingAndGlyphs">3</text>
<line x1="386.6" y1="920" x2="386.6" y2="932.5" stroke="#1a1a1a" stroke-width="1.8"/>
<text x="386.6" y="959.3" font-size="23.5" text-anchor="middle" fill="#111" stroke="#111" stroke-width="0.35" textLength="12.4" lengthAdjust="spacingAndGlyphs">4</text>
<line x1="440.1" y1="920" x2="440.1" y2="932.5" stroke="#1a1a1a" stroke-width="1.8"/>
<text x="440.1" y="959.3" font-size="23.5" text-anchor="middle" fill="#111" stroke="#111" stroke-width="0.35" textLength="24.8" lengthAdjust="spacingAndGlyphs">20</text>
<line x1="497" y1="920" x2="497" y2="932.5" stroke="#1a1a1a" stroke-width="1.8"/>
<text x="497" y="959.3" font-size="23.5" text-anchor="middle" fill="#111" stroke="#111" stroke-width="0.35" textLength="24.8" lengthAdjust="spacingAndGlyphs">24</text>
<line x1="552" y1="920" x2="552" y2="932.5" stroke="#1a1a1a" stroke-width="1.8"/>
<text x="552" y="959.3" font-size="23.5" text-anchor="middle" fill="#111" stroke="#111" stroke-width="0.35" textLength="24.8" lengthAdjust="spacingAndGlyphs">20</text>
<line x1="607.1" y1="920" x2="607.1" y2="932.5" stroke="#1a1a1a" stroke-width="1.8"/>
<text x="607.1" y="959.3" font-size="23.5" text-anchor="middle" fill="#111" stroke="#111" stroke-width="0.35" textLength="24.8" lengthAdjust="spacingAndGlyphs">20</text>
<line x1="658.3" y1="920" x2="658.3" y2="932.5" stroke="#1a1a1a" stroke-width="1.8"/>
<text x="658.3" y="959.3" font-size="23.5" text-anchor="middle" fill="#111" stroke="#111" stroke-width="0.35" textLength="24.8" lengthAdjust="spacingAndGlyphs">20</text>
<line x1="709.1" y1="920" x2="709.1" y2="932.5" stroke="#1a1a1a" stroke-width="1.8"/>
<text x="709.1" y="959.3" font-size="23.5" text-anchor="middle" fill="#111" stroke="#111" stroke-width="0.35" textLength="24.8" lengthAdjust="spacingAndGlyphs">20</text>
<line x1="760.8" y1="920" x2="760.8" y2="932.5" stroke="#1a1a1a" stroke-width="1.8"/>
<text x="760.8" y="959.3" font-size="23.5" text-anchor="middle" fill="#111" stroke="#111" stroke-width="0.35" textLength="24.8" lengthAdjust="spacingAndGlyphs">20</text>
<line x1="814.7" y1="920" x2="814.7" y2="932.5" stroke="#1a1a1a" stroke-width="1.8"/>
<text x="814.7" y="959.3" font-size="23.5" text-anchor="middle" fill="#111" stroke="#111" stroke-width="0.35" textLength="24.8" lengthAdjust="spacingAndGlyphs">20</text>
<line x1="867.2" y1="920" x2="867.2" y2="932.5" stroke="#1a1a1a" stroke-width="1.8"/>
<text x="867.2" y="959.3" font-size="23.5" text-anchor="middle" fill="#111" stroke="#111" stroke-width="0.35" textLength="24.8" lengthAdjust="spacingAndGlyphs">20</text>
<line x1="916.7" y1="920" x2="916.7" y2="932.5" stroke="#1a1a1a" stroke-width="1.8"/>
<text x="916.7" y="959.3" font-size="23.5" text-anchor="middle" fill="#111" stroke="#111" stroke-width="0.35" textLength="24.8" lengthAdjust="spacingAndGlyphs">24</text>
<text x="178.6" y="662.9" font-size="23.5" text-anchor="end" fill="#111" stroke="#111" stroke-width="0.35" textLength="35.7" lengthAdjust="spacingAndGlyphs">100</text>
<text x="178.6" y="724" font-size="23.5" text-anchor="end" fill="#111" stroke="#111" stroke-width="0.35" textLength="23.8" lengthAdjust="spacingAndGlyphs">80</text>
<text x="178.6" y="789.5" font-size="23.5" text-anchor="end" fill="#111" stroke="#111" stroke-width="0.35" textLength="23.8" lengthAdjust="spacingAndGlyphs">30</text>
<text x="178.6" y="855.5" font-size="23.5" text-anchor="end" fill="#111" stroke="#111" stroke-width="0.35" textLength="23.8" lengthAdjust="spacingAndGlyphs">20</text>
<text x="178.6" y="925.5" font-size="23.5" text-anchor="end" fill="#111" stroke="#111" stroke-width="0.35" textLength="11.9" lengthAdjust="spacingAndGlyphs">0</text>
<text x="481" y="989" font-size="22.5" fill="#111" stroke="#111" stroke-width="0.5" textLength="162" lengthAdjust="spacingAndGlyphs">Time (24 hours)</text>
<text transform="translate(143.5,900) rotate(-90)" font-size="25" font-weight="bold" fill="#111" style="white-space:pre" textLength="205" lengthAdjust="spacingAndGlyphs">GH  cocnttaration)</text>
<text x="192.5" y="702" font-size="20" fill="#111" stroke="#111" stroke-width="0.3" textLength="62" lengthAdjust="spacingAndGlyphs">Higher</text>
<text x="728" y="700" font-size="20" fill="#111" stroke="#111" stroke-width="0.3" textLength="52" lengthAdjust="spacingAndGlyphs">Sleep</text>
<text x="907.5" y="701" font-size="20" fill="#111" stroke="#111" stroke-width="0.3" textLength="52" lengthAdjust="spacingAndGlyphs">Sleep</text>
<text x="49.5" y="165.2" font-size="29" font-weight="bold" fill="#111" textLength="78" lengthAdjust="spacingAndGlyphs">GHRH</text>
<text x="56.5" y="475.2" font-size="29" font-weight="bold" fill="#111" textLength="40.5" lengthAdjust="spacingAndGlyphs">GH</text>
<text x="418" y="545.6" font-size="24" font-weight="bold" fill="#111" textLength="163.6" lengthAdjust="spacingAndGlyphs">Hypothalamus</text>
<text x="687" y="204.3" font-size="22" font-weight="bold" fill="#111" textLength="155" lengthAdjust="spacingAndGlyphs">Hypothalamus</text>
<text x="742.7" y="286.8" font-size="22.8" fill="#111" stroke="#111" stroke-width="0.6" textLength="187" lengthAdjust="spacingAndGlyphs">Growth Hormone-</text>
<text x="777.5" y="314.7" font-size="22.8" fill="#111" stroke="#111" stroke-width="0.6" textLength="103.3" lengthAdjust="spacingAndGlyphs">Releasing</text>
<text x="783.8" y="341.4" font-size="22.8" fill="#111" stroke="#111" stroke-width="0.6" textLength="80" lengthAdjust="spacingAndGlyphs">Hortore</text>
<text x="747" y="468" font-size="24.5" font-weight="bold" fill="#111" textLength="158" lengthAdjust="spacingAndGlyphs">Pituitary gland</text>
<text x="783.4" y="395.6" font-size="15" fill="#111" stroke="#111" stroke-width="0.2" textLength="109.4" lengthAdjust="spacingAndGlyphs">Pituiərt pituitary</text>
<line x1="132" y1="159.3" x2="221" y2="201.2" stroke="#151515" stroke-width="1.7"/>
<line x1="101.7" y1="466.6" x2="189.2" y2="466.6" stroke="#151515" stroke-width="1.7"/>
<line x1="299" y1="400" x2="416" y2="518" stroke="#151515" stroke-width="1.7"/>
<line x1="662.7" y1="209.5" x2="681.7" y2="202.8" stroke="#151515" stroke-width="1.7"/>
<line x1="466.4" y1="257.3" x2="570.4" y2="219.8" stroke="#151515" stroke-width="1.7"/>
<line x1="740.6" y1="293.2" x2="712" y2="352" stroke="#151515" stroke-width="1.7"/>
<line x1="726.7" y1="402.7" x2="759.8" y2="445.2" stroke="#151515" stroke-width="1.7"/>
</svg></body></html>
